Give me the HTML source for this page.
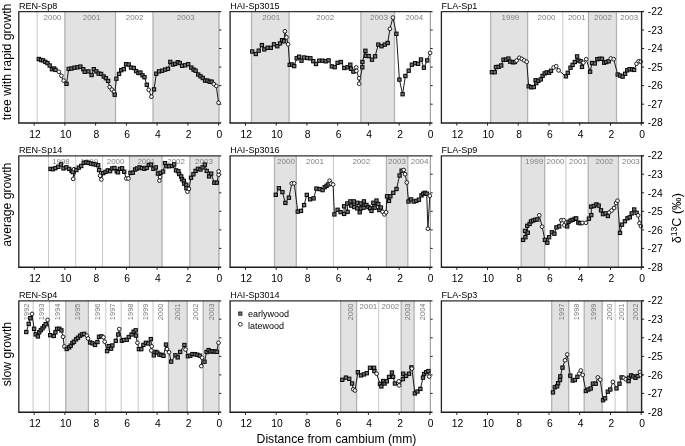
<!DOCTYPE html>
<html lang="en"><head><meta charset="utf-8"><title>δ13C vs distance from cambium</title>
<style>html,body{margin:0;padding:0;background:#fff}svg{display:block}</style></head>
<body>
<svg width="685" height="446" viewBox="0 0 685 446" font-family="'Liberation Sans', Arial, sans-serif">
<rect width="685" height="446" fill="#fff"/>
<g><rect x="64.9" y="11.4" width="50.6" height="111.3" fill="#e2e2e2"/><rect x="153.0" y="11.4" width="65.6" height="111.3" fill="#e2e2e2"/><line x1="37.2" x2="37.2" y1="11.4" y2="122.7" stroke="#c8c8c8" stroke-width="1"/><line x1="64.9" x2="64.9" y1="11.4" y2="122.7" stroke="#b2b2b2" stroke-width="1.3"/><line x1="115.5" x2="115.5" y1="11.4" y2="122.7" stroke="#b2b2b2" stroke-width="1.3"/><line x1="153.0" x2="153.0" y1="11.4" y2="122.7" stroke="#b2b2b2" stroke-width="1.3"/><line x1="219.0" x2="219.0" y1="11.4" y2="122.7" stroke="#8c8c8c" stroke-width="1"/><line x1="219.1" x2="221.4" y1="30.0" y2="30.0" stroke="#222" stroke-width="1"/><line x1="219.1" x2="221.4" y1="48.5" y2="48.5" stroke="#222" stroke-width="1"/><line x1="219.1" x2="221.4" y1="67.1" y2="67.1" stroke="#222" stroke-width="1"/><line x1="219.1" x2="221.4" y1="85.6" y2="85.6" stroke="#222" stroke-width="1"/><line x1="219.1" x2="221.4" y1="104.2" y2="104.2" stroke="#222" stroke-width="1"/><text x="52.4" y="19.7" text-anchor="middle" font-size="8" fill="#828282">2000</text><text x="91.6" y="19.7" text-anchor="middle" font-size="8" fill="#828282">2001</text><text x="134.6" y="19.7" text-anchor="middle" font-size="8" fill="#828282">2002</text><text x="185.7" y="19.7" text-anchor="middle" font-size="8" fill="#828282">2003</text><path d="M38.8,59.0 L41.0,60.0 L43.1,60.4 L45.3,61.9 L47.5,63.1 L49.7,65.5 L51.9,69.2 L54.1,68.5 L55.5,69.9 L58.9,71.8 L61.4,75.8 L63.6,80.6 L66.5,83.8 L68.7,68.9 L71.6,68.5 L74.5,67.7 L77.4,67.3 L80.4,66.6 L83.3,69.2 L84.7,71.8 L88.4,71.4 L91.6,75.0 L93.8,69.2 L96.4,71.4 L98.6,73.6 L101.1,73.9 L103.7,76.5 L105.9,78.2 L108.1,80.9 L109.6,87.0 L111.8,89.6 L113.9,91.8 L114.7,94.7 L116.4,78.7 L119.0,73.9 L121.2,70.2 L123.8,69.1 L126.1,64.2 L128.7,64.5 L131.0,67.6 L133.8,68.0 L136.1,71.1 L138.4,73.0 L140.4,72.6 L142.5,75.3 L144.5,77.2 L146.8,84.8 L148.7,89.8 L151.4,96.7 L154.0,89.4 L156.3,73.7 L159.1,71.4 L162.2,70.7 L165.2,69.6 L168.0,68.8 L170.3,61.9 L172.9,64.5 L175.2,63.8 L177.8,62.2 L179.8,63.0 L182.1,65.8 L185.1,65.3 L188.2,64.2 L191.3,67.6 L193.6,69.6 L195.6,70.7 L198.2,74.5 L200.5,76.3 L202.8,78.0 L205.1,80.6 L207.4,80.6 L209.7,81.7 L211.7,81.7 L213.8,84.1 L216.3,86.0 L218.6,102.8" fill="none" stroke="#1a1a1a" stroke-width="1"/><rect x="37.15" y="57.35" width="3.3" height="3.3" fill="#757575" stroke="#0a0a0a" stroke-width="1.05"/><rect x="39.35" y="58.35" width="3.3" height="3.3" fill="#757575" stroke="#0a0a0a" stroke-width="1.05"/><rect x="41.45" y="58.75" width="3.3" height="3.3" fill="#757575" stroke="#0a0a0a" stroke-width="1.05"/><rect x="43.65" y="60.25" width="3.3" height="3.3" fill="#757575" stroke="#0a0a0a" stroke-width="1.05"/><rect x="45.85" y="61.45" width="3.3" height="3.3" fill="#757575" stroke="#0a0a0a" stroke-width="1.05"/><rect x="48.05" y="63.85" width="3.3" height="3.3" fill="#757575" stroke="#0a0a0a" stroke-width="1.05"/><rect x="50.25" y="67.55" width="3.3" height="3.3" fill="#757575" stroke="#0a0a0a" stroke-width="1.05"/><rect x="52.45" y="66.85" width="3.3" height="3.3" fill="#757575" stroke="#0a0a0a" stroke-width="1.05"/><rect x="53.85" y="68.25" width="3.3" height="3.3" fill="#757575" stroke="#0a0a0a" stroke-width="1.05"/><circle cx="58.9" cy="71.8" r="1.85" fill="#fff" stroke="#0a0a0a" stroke-width="0.9"/><circle cx="61.4" cy="75.8" r="1.85" fill="#fff" stroke="#0a0a0a" stroke-width="0.9"/><circle cx="63.6" cy="80.6" r="1.85" fill="#fff" stroke="#0a0a0a" stroke-width="0.9"/><rect x="64.85" y="82.15" width="3.3" height="3.3" fill="#757575" stroke="#0a0a0a" stroke-width="1.05"/><rect x="67.05" y="67.25" width="3.3" height="3.3" fill="#757575" stroke="#0a0a0a" stroke-width="1.05"/><rect x="69.95" y="66.85" width="3.3" height="3.3" fill="#757575" stroke="#0a0a0a" stroke-width="1.05"/><rect x="72.85" y="66.05" width="3.3" height="3.3" fill="#757575" stroke="#0a0a0a" stroke-width="1.05"/><rect x="75.75" y="65.65" width="3.3" height="3.3" fill="#757575" stroke="#0a0a0a" stroke-width="1.05"/><rect x="78.75" y="64.95" width="3.3" height="3.3" fill="#757575" stroke="#0a0a0a" stroke-width="1.05"/><rect x="81.65" y="67.55" width="3.3" height="3.3" fill="#757575" stroke="#0a0a0a" stroke-width="1.05"/><rect x="83.05" y="70.15" width="3.3" height="3.3" fill="#757575" stroke="#0a0a0a" stroke-width="1.05"/><rect x="86.75" y="69.75" width="3.3" height="3.3" fill="#757575" stroke="#0a0a0a" stroke-width="1.05"/><rect x="89.95" y="73.35" width="3.3" height="3.3" fill="#757575" stroke="#0a0a0a" stroke-width="1.05"/><rect x="92.15" y="67.55" width="3.3" height="3.3" fill="#757575" stroke="#0a0a0a" stroke-width="1.05"/><rect x="94.75" y="69.75" width="3.3" height="3.3" fill="#757575" stroke="#0a0a0a" stroke-width="1.05"/><rect x="96.95" y="71.95" width="3.3" height="3.3" fill="#757575" stroke="#0a0a0a" stroke-width="1.05"/><rect x="99.45" y="72.25" width="3.3" height="3.3" fill="#757575" stroke="#0a0a0a" stroke-width="1.05"/><rect x="102.05" y="74.85" width="3.3" height="3.3" fill="#757575" stroke="#0a0a0a" stroke-width="1.05"/><rect x="104.25" y="76.55" width="3.3" height="3.3" fill="#757575" stroke="#0a0a0a" stroke-width="1.05"/><rect x="106.45" y="79.25" width="3.3" height="3.3" fill="#757575" stroke="#0a0a0a" stroke-width="1.05"/><circle cx="109.6" cy="87.0" r="1.85" fill="#fff" stroke="#0a0a0a" stroke-width="0.9"/><circle cx="111.8" cy="89.6" r="1.85" fill="#fff" stroke="#0a0a0a" stroke-width="0.9"/><circle cx="113.9" cy="91.8" r="1.85" fill="#fff" stroke="#0a0a0a" stroke-width="0.9"/><rect x="113.05" y="93.05" width="3.3" height="3.3" fill="#757575" stroke="#0a0a0a" stroke-width="1.05"/><rect x="114.75" y="77.05" width="3.3" height="3.3" fill="#757575" stroke="#0a0a0a" stroke-width="1.05"/><rect x="117.35" y="72.25" width="3.3" height="3.3" fill="#757575" stroke="#0a0a0a" stroke-width="1.05"/><rect x="119.55" y="68.55" width="3.3" height="3.3" fill="#757575" stroke="#0a0a0a" stroke-width="1.05"/><rect x="122.15" y="67.45" width="3.3" height="3.3" fill="#757575" stroke="#0a0a0a" stroke-width="1.05"/><rect x="124.45" y="62.55" width="3.3" height="3.3" fill="#757575" stroke="#0a0a0a" stroke-width="1.05"/><rect x="127.05" y="62.85" width="3.3" height="3.3" fill="#757575" stroke="#0a0a0a" stroke-width="1.05"/><rect x="129.35" y="65.95" width="3.3" height="3.3" fill="#757575" stroke="#0a0a0a" stroke-width="1.05"/><rect x="132.15" y="66.35" width="3.3" height="3.3" fill="#757575" stroke="#0a0a0a" stroke-width="1.05"/><rect x="134.45" y="69.45" width="3.3" height="3.3" fill="#757575" stroke="#0a0a0a" stroke-width="1.05"/><rect x="136.75" y="71.35" width="3.3" height="3.3" fill="#757575" stroke="#0a0a0a" stroke-width="1.05"/><rect x="138.75" y="70.95" width="3.3" height="3.3" fill="#757575" stroke="#0a0a0a" stroke-width="1.05"/><rect x="140.85" y="73.65" width="3.3" height="3.3" fill="#757575" stroke="#0a0a0a" stroke-width="1.05"/><rect x="142.85" y="75.55" width="3.3" height="3.3" fill="#757575" stroke="#0a0a0a" stroke-width="1.05"/><rect x="145.15" y="83.15" width="3.3" height="3.3" fill="#757575" stroke="#0a0a0a" stroke-width="1.05"/><circle cx="148.7" cy="89.8" r="1.85" fill="#fff" stroke="#0a0a0a" stroke-width="0.9"/><circle cx="151.4" cy="96.7" r="1.85" fill="#fff" stroke="#0a0a0a" stroke-width="0.9"/><rect x="152.35" y="87.75" width="3.3" height="3.3" fill="#757575" stroke="#0a0a0a" stroke-width="1.05"/><rect x="154.65" y="72.05" width="3.3" height="3.3" fill="#757575" stroke="#0a0a0a" stroke-width="1.05"/><rect x="157.45" y="69.75" width="3.3" height="3.3" fill="#757575" stroke="#0a0a0a" stroke-width="1.05"/><rect x="160.55" y="69.05" width="3.3" height="3.3" fill="#757575" stroke="#0a0a0a" stroke-width="1.05"/><rect x="163.55" y="67.95" width="3.3" height="3.3" fill="#757575" stroke="#0a0a0a" stroke-width="1.05"/><rect x="166.35" y="67.15" width="3.3" height="3.3" fill="#757575" stroke="#0a0a0a" stroke-width="1.05"/><rect x="168.65" y="60.25" width="3.3" height="3.3" fill="#757575" stroke="#0a0a0a" stroke-width="1.05"/><rect x="171.25" y="62.85" width="3.3" height="3.3" fill="#757575" stroke="#0a0a0a" stroke-width="1.05"/><rect x="173.55" y="62.15" width="3.3" height="3.3" fill="#757575" stroke="#0a0a0a" stroke-width="1.05"/><rect x="176.15" y="60.55" width="3.3" height="3.3" fill="#757575" stroke="#0a0a0a" stroke-width="1.05"/><rect x="178.15" y="61.35" width="3.3" height="3.3" fill="#757575" stroke="#0a0a0a" stroke-width="1.05"/><rect x="180.45" y="64.15" width="3.3" height="3.3" fill="#757575" stroke="#0a0a0a" stroke-width="1.05"/><rect x="183.45" y="63.65" width="3.3" height="3.3" fill="#757575" stroke="#0a0a0a" stroke-width="1.05"/><rect x="186.55" y="62.55" width="3.3" height="3.3" fill="#757575" stroke="#0a0a0a" stroke-width="1.05"/><rect x="189.65" y="65.95" width="3.3" height="3.3" fill="#757575" stroke="#0a0a0a" stroke-width="1.05"/><rect x="191.95" y="67.95" width="3.3" height="3.3" fill="#757575" stroke="#0a0a0a" stroke-width="1.05"/><rect x="193.95" y="69.05" width="3.3" height="3.3" fill="#757575" stroke="#0a0a0a" stroke-width="1.05"/><rect x="196.55" y="72.85" width="3.3" height="3.3" fill="#757575" stroke="#0a0a0a" stroke-width="1.05"/><rect x="198.85" y="74.65" width="3.3" height="3.3" fill="#757575" stroke="#0a0a0a" stroke-width="1.05"/><rect x="201.15" y="76.35" width="3.3" height="3.3" fill="#757575" stroke="#0a0a0a" stroke-width="1.05"/><rect x="203.45" y="78.95" width="3.3" height="3.3" fill="#757575" stroke="#0a0a0a" stroke-width="1.05"/><rect x="205.75" y="78.95" width="3.3" height="3.3" fill="#757575" stroke="#0a0a0a" stroke-width="1.05"/><rect x="208.05" y="80.05" width="3.3" height="3.3" fill="#757575" stroke="#0a0a0a" stroke-width="1.05"/><rect x="210.05" y="80.05" width="3.3" height="3.3" fill="#757575" stroke="#0a0a0a" stroke-width="1.05"/><circle cx="213.8" cy="84.1" r="1.85" fill="#fff" stroke="#0a0a0a" stroke-width="0.9"/><circle cx="216.3" cy="86.0" r="1.85" fill="#fff" stroke="#0a0a0a" stroke-width="0.9"/><circle cx="218.6" cy="102.8" r="1.85" fill="#fff" stroke="#0a0a0a" stroke-width="0.9"/><line x1="18.8" x2="18.8" y1="11.4" y2="123.3" stroke="#222" stroke-width="1.3"/><line x1="18.3" x2="221.2" y1="11.55" y2="11.55" stroke="#303030" stroke-width="1.3"/><line x1="18.3" x2="221.2" y1="123.0" y2="123.0" stroke="#1c1c1c" stroke-width="1.4"/><line x1="218.6" x2="218.6" y1="122.7" y2="125.6" stroke="#222" stroke-width="1"/><text x="219.4" y="137.7" text-anchor="middle" font-size="10.3" fill="#000">0</text><line x1="187.9" x2="187.9" y1="122.7" y2="125.6" stroke="#222" stroke-width="1"/><text x="188.7" y="137.7" text-anchor="middle" font-size="10.3" fill="#000">2</text><line x1="157.1" x2="157.1" y1="122.7" y2="125.6" stroke="#222" stroke-width="1"/><text x="157.9" y="137.7" text-anchor="middle" font-size="10.3" fill="#000">4</text><line x1="126.4" x2="126.4" y1="122.7" y2="125.6" stroke="#222" stroke-width="1"/><text x="127.2" y="137.7" text-anchor="middle" font-size="10.3" fill="#000">6</text><line x1="95.6" x2="95.6" y1="122.7" y2="125.6" stroke="#222" stroke-width="1"/><text x="96.4" y="137.7" text-anchor="middle" font-size="10.3" fill="#000">8</text><line x1="64.9" x2="64.9" y1="122.7" y2="125.6" stroke="#222" stroke-width="1"/><text x="65.7" y="137.7" text-anchor="middle" font-size="10.3" fill="#000">10</text><line x1="34.2" x2="34.2" y1="122.7" y2="125.6" stroke="#222" stroke-width="1"/><text x="35.0" y="137.7" text-anchor="middle" font-size="10.3" fill="#000">12</text><text x="19.0" y="8.9" font-size="9.05" fill="#000">REN-Sp8</text></g>
<g><rect x="251.5" y="11.4" width="37.7" height="111.3" fill="#e2e2e2"/><rect x="360.9" y="11.4" width="33.7" height="111.3" fill="#e2e2e2"/><line x1="251.5" x2="251.5" y1="11.4" y2="122.7" stroke="#b2b2b2" stroke-width="1.3"/><line x1="289.1" x2="289.1" y1="11.4" y2="122.7" stroke="#b2b2b2" stroke-width="1.3"/><line x1="360.9" x2="360.9" y1="11.4" y2="122.7" stroke="#b2b2b2" stroke-width="1.3"/><line x1="394.5" x2="394.5" y1="11.4" y2="122.7" stroke="#b2b2b2" stroke-width="1.3"/><line x1="430.3" x2="430.3" y1="11.4" y2="122.7" stroke="#8c8c8c" stroke-width="1"/><line x1="430.4" x2="432.7" y1="30.0" y2="30.0" stroke="#222" stroke-width="1"/><line x1="430.4" x2="432.7" y1="48.5" y2="48.5" stroke="#222" stroke-width="1"/><line x1="430.4" x2="432.7" y1="67.1" y2="67.1" stroke="#222" stroke-width="1"/><line x1="430.4" x2="432.7" y1="85.6" y2="85.6" stroke="#222" stroke-width="1"/><line x1="430.4" x2="432.7" y1="104.2" y2="104.2" stroke="#222" stroke-width="1"/><text x="271.2" y="19.7" text-anchor="middle" font-size="8" fill="#828282">2001</text><text x="325.2" y="19.7" text-anchor="middle" font-size="8" fill="#828282">2002</text><text x="379.0" y="19.7" text-anchor="middle" font-size="8" fill="#828282">2003</text><text x="414.3" y="19.7" text-anchor="middle" font-size="8" fill="#828282">2004</text><path d="M252.2,51.5 L255.8,54.0 L258.7,50.7 L261.9,45.1 L264.3,49.4 L267.6,47.8 L270.8,47.8 L274.0,44.3 L277.3,46.2 L280.0,43.4 L282.1,40.2 L284.1,41.3 L284.9,31.3 L286.5,37.3 L288.1,44.3 L289.7,64.8 L292.1,64.5 L294.2,66.1 L296.7,58.3 L299.1,56.7 L301.5,60.7 L303.9,57.5 L307.2,58.0 L310.4,58.3 L313.3,61.2 L316.0,64.0 L319.3,60.7 L322.5,60.7 L325.7,61.3 L328.6,60.4 L331.8,66.4 L334.7,67.2 L337.6,62.8 L340.9,62.0 L344.3,68.0 L347.4,67.3 L350.3,64.7 L351.0,68.8 L353.4,71.6 L356.2,67.4 L356.4,70.9 L359.1,78.2 L359.2,83.7 L362.3,67.3 L362.4,62.0 L365.4,50.8 L365.7,55.8 L368.7,56.1 L372.0,59.7 L375.1,56.3 L378.3,44.6 L381.5,46.2 L384.8,44.6 L387.7,43.0 L389.9,28.9 L392.9,17.6 L396.4,33.8 L399.4,79.6 L402.6,94.2 L405.4,76.0 L408.7,70.7 L411.9,64.7 L415.1,63.2 L418.1,63.8 L421.0,59.5 L423.9,67.7 L427.2,60.4 L430.1,52.9" fill="none" stroke="#1a1a1a" stroke-width="1"/><rect x="250.55" y="49.85" width="3.3" height="3.3" fill="#757575" stroke="#0a0a0a" stroke-width="1.05"/><rect x="254.15" y="52.35" width="3.3" height="3.3" fill="#757575" stroke="#0a0a0a" stroke-width="1.05"/><rect x="257.05" y="49.05" width="3.3" height="3.3" fill="#757575" stroke="#0a0a0a" stroke-width="1.05"/><rect x="260.25" y="43.45" width="3.3" height="3.3" fill="#757575" stroke="#0a0a0a" stroke-width="1.05"/><rect x="262.65" y="47.75" width="3.3" height="3.3" fill="#757575" stroke="#0a0a0a" stroke-width="1.05"/><rect x="265.95" y="46.15" width="3.3" height="3.3" fill="#757575" stroke="#0a0a0a" stroke-width="1.05"/><rect x="269.15" y="46.15" width="3.3" height="3.3" fill="#757575" stroke="#0a0a0a" stroke-width="1.05"/><rect x="272.35" y="42.65" width="3.3" height="3.3" fill="#757575" stroke="#0a0a0a" stroke-width="1.05"/><rect x="275.65" y="44.55" width="3.3" height="3.3" fill="#757575" stroke="#0a0a0a" stroke-width="1.05"/><rect x="278.35" y="41.75" width="3.3" height="3.3" fill="#757575" stroke="#0a0a0a" stroke-width="1.05"/><rect x="280.45" y="38.55" width="3.3" height="3.3" fill="#757575" stroke="#0a0a0a" stroke-width="1.05"/><rect x="282.45" y="39.65" width="3.3" height="3.3" fill="#757575" stroke="#0a0a0a" stroke-width="1.05"/><circle cx="284.9" cy="31.3" r="1.85" fill="#fff" stroke="#0a0a0a" stroke-width="0.9"/><circle cx="286.5" cy="37.3" r="1.85" fill="#fff" stroke="#0a0a0a" stroke-width="0.9"/><circle cx="288.1" cy="44.3" r="1.85" fill="#fff" stroke="#0a0a0a" stroke-width="0.9"/><rect x="288.05" y="63.15" width="3.3" height="3.3" fill="#757575" stroke="#0a0a0a" stroke-width="1.05"/><rect x="290.45" y="62.85" width="3.3" height="3.3" fill="#757575" stroke="#0a0a0a" stroke-width="1.05"/><rect x="292.55" y="64.45" width="3.3" height="3.3" fill="#757575" stroke="#0a0a0a" stroke-width="1.05"/><rect x="295.05" y="56.65" width="3.3" height="3.3" fill="#757575" stroke="#0a0a0a" stroke-width="1.05"/><rect x="297.45" y="55.05" width="3.3" height="3.3" fill="#757575" stroke="#0a0a0a" stroke-width="1.05"/><rect x="299.85" y="59.05" width="3.3" height="3.3" fill="#757575" stroke="#0a0a0a" stroke-width="1.05"/><rect x="302.25" y="55.85" width="3.3" height="3.3" fill="#757575" stroke="#0a0a0a" stroke-width="1.05"/><rect x="305.55" y="56.35" width="3.3" height="3.3" fill="#757575" stroke="#0a0a0a" stroke-width="1.05"/><rect x="308.75" y="56.65" width="3.3" height="3.3" fill="#757575" stroke="#0a0a0a" stroke-width="1.05"/><rect x="311.65" y="59.55" width="3.3" height="3.3" fill="#757575" stroke="#0a0a0a" stroke-width="1.05"/><rect x="314.35" y="62.35" width="3.3" height="3.3" fill="#757575" stroke="#0a0a0a" stroke-width="1.05"/><rect x="317.65" y="59.05" width="3.3" height="3.3" fill="#757575" stroke="#0a0a0a" stroke-width="1.05"/><rect x="320.85" y="59.05" width="3.3" height="3.3" fill="#757575" stroke="#0a0a0a" stroke-width="1.05"/><rect x="324.05" y="59.65" width="3.3" height="3.3" fill="#757575" stroke="#0a0a0a" stroke-width="1.05"/><rect x="326.95" y="58.75" width="3.3" height="3.3" fill="#757575" stroke="#0a0a0a" stroke-width="1.05"/><rect x="330.15" y="64.75" width="3.3" height="3.3" fill="#757575" stroke="#0a0a0a" stroke-width="1.05"/><rect x="333.05" y="65.55" width="3.3" height="3.3" fill="#757575" stroke="#0a0a0a" stroke-width="1.05"/><rect x="335.95" y="61.15" width="3.3" height="3.3" fill="#757575" stroke="#0a0a0a" stroke-width="1.05"/><rect x="339.25" y="60.35" width="3.3" height="3.3" fill="#757575" stroke="#0a0a0a" stroke-width="1.05"/><rect x="342.65" y="66.35" width="3.3" height="3.3" fill="#757575" stroke="#0a0a0a" stroke-width="1.05"/><rect x="345.75" y="65.65" width="3.3" height="3.3" fill="#757575" stroke="#0a0a0a" stroke-width="1.05"/><rect x="348.65" y="63.05" width="3.3" height="3.3" fill="#757575" stroke="#0a0a0a" stroke-width="1.05"/><rect x="349.35" y="67.15" width="3.3" height="3.3" fill="#757575" stroke="#0a0a0a" stroke-width="1.05"/><rect x="351.75" y="69.95" width="3.3" height="3.3" fill="#757575" stroke="#0a0a0a" stroke-width="1.05"/><circle cx="356.2" cy="67.4" r="1.85" fill="#fff" stroke="#0a0a0a" stroke-width="0.9"/><circle cx="356.4" cy="70.9" r="1.85" fill="#fff" stroke="#0a0a0a" stroke-width="0.9"/><circle cx="359.1" cy="78.2" r="1.85" fill="#fff" stroke="#0a0a0a" stroke-width="0.9"/><circle cx="359.2" cy="83.7" r="1.85" fill="#fff" stroke="#0a0a0a" stroke-width="0.9"/><rect x="360.65" y="65.65" width="3.3" height="3.3" fill="#757575" stroke="#0a0a0a" stroke-width="1.05"/><rect x="360.75" y="60.35" width="3.3" height="3.3" fill="#757575" stroke="#0a0a0a" stroke-width="1.05"/><rect x="363.75" y="49.15" width="3.3" height="3.3" fill="#757575" stroke="#0a0a0a" stroke-width="1.05"/><rect x="364.05" y="54.15" width="3.3" height="3.3" fill="#757575" stroke="#0a0a0a" stroke-width="1.05"/><rect x="367.05" y="54.45" width="3.3" height="3.3" fill="#757575" stroke="#0a0a0a" stroke-width="1.05"/><rect x="370.35" y="58.05" width="3.3" height="3.3" fill="#757575" stroke="#0a0a0a" stroke-width="1.05"/><rect x="373.45" y="54.65" width="3.3" height="3.3" fill="#757575" stroke="#0a0a0a" stroke-width="1.05"/><rect x="376.65" y="42.95" width="3.3" height="3.3" fill="#757575" stroke="#0a0a0a" stroke-width="1.05"/><rect x="379.85" y="44.55" width="3.3" height="3.3" fill="#757575" stroke="#0a0a0a" stroke-width="1.05"/><rect x="383.15" y="42.95" width="3.3" height="3.3" fill="#757575" stroke="#0a0a0a" stroke-width="1.05"/><rect x="386.05" y="41.35" width="3.3" height="3.3" fill="#757575" stroke="#0a0a0a" stroke-width="1.05"/><circle cx="389.9" cy="28.9" r="1.85" fill="#fff" stroke="#0a0a0a" stroke-width="0.9"/><circle cx="392.9" cy="17.6" r="1.85" fill="#fff" stroke="#0a0a0a" stroke-width="0.9"/><rect x="394.75" y="32.15" width="3.3" height="3.3" fill="#757575" stroke="#0a0a0a" stroke-width="1.05"/><rect x="397.75" y="77.95" width="3.3" height="3.3" fill="#757575" stroke="#0a0a0a" stroke-width="1.05"/><rect x="400.95" y="92.55" width="3.3" height="3.3" fill="#757575" stroke="#0a0a0a" stroke-width="1.05"/><rect x="403.75" y="74.35" width="3.3" height="3.3" fill="#757575" stroke="#0a0a0a" stroke-width="1.05"/><rect x="407.05" y="69.05" width="3.3" height="3.3" fill="#757575" stroke="#0a0a0a" stroke-width="1.05"/><rect x="410.25" y="63.05" width="3.3" height="3.3" fill="#757575" stroke="#0a0a0a" stroke-width="1.05"/><rect x="413.45" y="61.55" width="3.3" height="3.3" fill="#757575" stroke="#0a0a0a" stroke-width="1.05"/><rect x="416.45" y="62.15" width="3.3" height="3.3" fill="#757575" stroke="#0a0a0a" stroke-width="1.05"/><rect x="419.35" y="57.85" width="3.3" height="3.3" fill="#757575" stroke="#0a0a0a" stroke-width="1.05"/><rect x="422.25" y="66.05" width="3.3" height="3.3" fill="#757575" stroke="#0a0a0a" stroke-width="1.05"/><rect x="425.55" y="58.75" width="3.3" height="3.3" fill="#757575" stroke="#0a0a0a" stroke-width="1.05"/><circle cx="430.1" cy="52.9" r="1.85" fill="#fff" stroke="#0a0a0a" stroke-width="0.9"/><line x1="230.1" x2="230.1" y1="11.4" y2="123.3" stroke="#222" stroke-width="1.3"/><line x1="229.6" x2="432.5" y1="11.55" y2="11.55" stroke="#303030" stroke-width="1.3"/><line x1="229.6" x2="432.5" y1="123.0" y2="123.0" stroke="#1c1c1c" stroke-width="1.4"/><line x1="429.9" x2="429.9" y1="122.7" y2="125.6" stroke="#222" stroke-width="1"/><text x="430.7" y="137.7" text-anchor="middle" font-size="10.3" fill="#000">0</text><line x1="399.2" x2="399.2" y1="122.7" y2="125.6" stroke="#222" stroke-width="1"/><text x="400.0" y="137.7" text-anchor="middle" font-size="10.3" fill="#000">2</text><line x1="368.4" x2="368.4" y1="122.7" y2="125.6" stroke="#222" stroke-width="1"/><text x="369.2" y="137.7" text-anchor="middle" font-size="10.3" fill="#000">4</text><line x1="337.7" x2="337.7" y1="122.7" y2="125.6" stroke="#222" stroke-width="1"/><text x="338.5" y="137.7" text-anchor="middle" font-size="10.3" fill="#000">6</text><line x1="306.9" x2="306.9" y1="122.7" y2="125.6" stroke="#222" stroke-width="1"/><text x="307.7" y="137.7" text-anchor="middle" font-size="10.3" fill="#000">8</text><line x1="276.2" x2="276.2" y1="122.7" y2="125.6" stroke="#222" stroke-width="1"/><text x="277.0" y="137.7" text-anchor="middle" font-size="10.3" fill="#000">10</text><line x1="245.5" x2="245.5" y1="122.7" y2="125.6" stroke="#222" stroke-width="1"/><text x="246.3" y="137.7" text-anchor="middle" font-size="10.3" fill="#000">12</text><text x="230.3" y="8.9" font-size="9.05" fill="#000">HAI-Sp3015</text></g>
<g><rect x="490.6" y="11.4" width="37.0" height="111.3" fill="#e2e2e2"/><rect x="588.5" y="11.4" width="28.0" height="111.3" fill="#e2e2e2"/><line x1="490.6" x2="490.6" y1="11.4" y2="122.7" stroke="#b2b2b2" stroke-width="1.3"/><line x1="527.6" x2="527.6" y1="11.4" y2="122.7" stroke="#b2b2b2" stroke-width="1.3"/><line x1="562.8" x2="562.8" y1="11.4" y2="122.7" stroke="#c8c8c8" stroke-width="1"/><line x1="588.5" x2="588.5" y1="11.4" y2="122.7" stroke="#b2b2b2" stroke-width="1.3"/><line x1="616.5" x2="616.5" y1="11.4" y2="122.7" stroke="#b2b2b2" stroke-width="1.3"/><text x="510.4" y="19.7" text-anchor="middle" font-size="8" fill="#828282">1999</text><text x="546.5" y="19.7" text-anchor="middle" font-size="8" fill="#828282">2000</text><text x="576.8" y="19.7" text-anchor="middle" font-size="8" fill="#828282">2001</text><text x="603.0" y="19.7" text-anchor="middle" font-size="8" fill="#828282">2002</text><text x="629.2" y="19.7" text-anchor="middle" font-size="8" fill="#828282">2003</text><path d="M491.9,72.2 L494.7,72.2 L496.0,67.1 L498.7,66.8 L501.2,65.5 L503.5,59.7 L506.0,59.7 L508.4,58.6 L510.2,61.6 L512.9,62.3 L514.8,62.0 L516.6,60.6 L519.3,57.8 L521.8,58.9 L524.2,60.4 L526.7,61.8 L528.7,86.3 L531.2,87.3 L533.8,87.0 L535.6,80.3 L536.3,83.1 L538.4,80.8 L540.8,79.4 L542.6,75.9 L544.7,73.4 L546.8,72.4 L549.1,72.7 L551.0,70.8 L553.6,67.5 L556.2,66.2 L558.6,70.4 L565.9,76.3 L567.8,72.8 L570.5,67.7 L572.6,64.9 L574.8,62.0 L577.1,56.4 L578.5,60.6 L580.6,61.3 L582.0,66.9 L583.4,62.7 L586.2,59.2 L590.1,71.7 L592.1,63.0 L594.8,63.4 L597.3,59.2 L599.7,58.8 L601.9,58.8 L604.2,62.7 L606.3,62.0 L608.7,61.3 L610.8,58.5 L613.7,59.2 L617.7,74.5 L620.2,75.6 L622.6,76.6 L625.1,73.8 L627.2,70.3 L629.6,69.2 L632.1,69.4 L634.1,69.9 L636.5,63.8 L638.6,61.3 L640.7,61.7" fill="none" stroke="#1a1a1a" stroke-width="1"/><rect x="490.25" y="70.55" width="3.3" height="3.3" fill="#757575" stroke="#0a0a0a" stroke-width="1.05"/><rect x="493.05" y="70.55" width="3.3" height="3.3" fill="#757575" stroke="#0a0a0a" stroke-width="1.05"/><rect x="494.35" y="65.45" width="3.3" height="3.3" fill="#757575" stroke="#0a0a0a" stroke-width="1.05"/><rect x="497.05" y="65.15" width="3.3" height="3.3" fill="#757575" stroke="#0a0a0a" stroke-width="1.05"/><rect x="499.55" y="63.85" width="3.3" height="3.3" fill="#757575" stroke="#0a0a0a" stroke-width="1.05"/><rect x="501.85" y="58.05" width="3.3" height="3.3" fill="#757575" stroke="#0a0a0a" stroke-width="1.05"/><rect x="504.35" y="58.05" width="3.3" height="3.3" fill="#757575" stroke="#0a0a0a" stroke-width="1.05"/><rect x="506.75" y="56.95" width="3.3" height="3.3" fill="#757575" stroke="#0a0a0a" stroke-width="1.05"/><rect x="508.55" y="59.95" width="3.3" height="3.3" fill="#757575" stroke="#0a0a0a" stroke-width="1.05"/><rect x="511.25" y="60.65" width="3.3" height="3.3" fill="#757575" stroke="#0a0a0a" stroke-width="1.05"/><rect x="513.15" y="60.35" width="3.3" height="3.3" fill="#757575" stroke="#0a0a0a" stroke-width="1.05"/><circle cx="516.6" cy="60.6" r="1.85" fill="#fff" stroke="#0a0a0a" stroke-width="0.9"/><circle cx="519.3" cy="57.8" r="1.85" fill="#fff" stroke="#0a0a0a" stroke-width="0.9"/><circle cx="521.8" cy="58.9" r="1.85" fill="#fff" stroke="#0a0a0a" stroke-width="0.9"/><circle cx="524.2" cy="60.4" r="1.85" fill="#fff" stroke="#0a0a0a" stroke-width="0.9"/><circle cx="526.7" cy="61.8" r="1.85" fill="#fff" stroke="#0a0a0a" stroke-width="0.9"/><rect x="527.05" y="84.65" width="3.3" height="3.3" fill="#757575" stroke="#0a0a0a" stroke-width="1.05"/><rect x="529.55" y="85.65" width="3.3" height="3.3" fill="#757575" stroke="#0a0a0a" stroke-width="1.05"/><rect x="532.15" y="85.35" width="3.3" height="3.3" fill="#757575" stroke="#0a0a0a" stroke-width="1.05"/><rect x="533.95" y="78.65" width="3.3" height="3.3" fill="#757575" stroke="#0a0a0a" stroke-width="1.05"/><rect x="534.65" y="81.45" width="3.3" height="3.3" fill="#757575" stroke="#0a0a0a" stroke-width="1.05"/><rect x="536.75" y="79.15" width="3.3" height="3.3" fill="#757575" stroke="#0a0a0a" stroke-width="1.05"/><rect x="539.15" y="77.75" width="3.3" height="3.3" fill="#757575" stroke="#0a0a0a" stroke-width="1.05"/><rect x="540.95" y="74.25" width="3.3" height="3.3" fill="#757575" stroke="#0a0a0a" stroke-width="1.05"/><rect x="543.05" y="71.75" width="3.3" height="3.3" fill="#757575" stroke="#0a0a0a" stroke-width="1.05"/><rect x="545.15" y="70.75" width="3.3" height="3.3" fill="#757575" stroke="#0a0a0a" stroke-width="1.05"/><rect x="547.45" y="71.05" width="3.3" height="3.3" fill="#757575" stroke="#0a0a0a" stroke-width="1.05"/><rect x="549.35" y="69.15" width="3.3" height="3.3" fill="#757575" stroke="#0a0a0a" stroke-width="1.05"/><circle cx="553.6" cy="67.5" r="1.85" fill="#fff" stroke="#0a0a0a" stroke-width="0.9"/><circle cx="556.2" cy="66.2" r="1.85" fill="#fff" stroke="#0a0a0a" stroke-width="0.9"/><circle cx="558.6" cy="70.4" r="1.85" fill="#fff" stroke="#0a0a0a" stroke-width="0.9"/><rect x="564.25" y="74.65" width="3.3" height="3.3" fill="#757575" stroke="#0a0a0a" stroke-width="1.05"/><rect x="566.15" y="71.15" width="3.3" height="3.3" fill="#757575" stroke="#0a0a0a" stroke-width="1.05"/><rect x="568.85" y="66.05" width="3.3" height="3.3" fill="#757575" stroke="#0a0a0a" stroke-width="1.05"/><rect x="570.95" y="63.25" width="3.3" height="3.3" fill="#757575" stroke="#0a0a0a" stroke-width="1.05"/><rect x="573.15" y="60.35" width="3.3" height="3.3" fill="#757575" stroke="#0a0a0a" stroke-width="1.05"/><rect x="575.45" y="54.75" width="3.3" height="3.3" fill="#757575" stroke="#0a0a0a" stroke-width="1.05"/><rect x="576.85" y="58.95" width="3.3" height="3.3" fill="#757575" stroke="#0a0a0a" stroke-width="1.05"/><rect x="578.95" y="59.65" width="3.3" height="3.3" fill="#757575" stroke="#0a0a0a" stroke-width="1.05"/><rect x="580.35" y="65.25" width="3.3" height="3.3" fill="#757575" stroke="#0a0a0a" stroke-width="1.05"/><circle cx="583.4" cy="62.7" r="1.85" fill="#fff" stroke="#0a0a0a" stroke-width="0.9"/><circle cx="586.2" cy="59.2" r="1.85" fill="#fff" stroke="#0a0a0a" stroke-width="0.9"/><rect x="588.45" y="70.05" width="3.3" height="3.3" fill="#757575" stroke="#0a0a0a" stroke-width="1.05"/><rect x="590.45" y="61.35" width="3.3" height="3.3" fill="#757575" stroke="#0a0a0a" stroke-width="1.05"/><rect x="593.15" y="61.75" width="3.3" height="3.3" fill="#757575" stroke="#0a0a0a" stroke-width="1.05"/><rect x="595.65" y="57.55" width="3.3" height="3.3" fill="#757575" stroke="#0a0a0a" stroke-width="1.05"/><rect x="598.05" y="57.15" width="3.3" height="3.3" fill="#757575" stroke="#0a0a0a" stroke-width="1.05"/><rect x="600.25" y="57.15" width="3.3" height="3.3" fill="#757575" stroke="#0a0a0a" stroke-width="1.05"/><rect x="602.55" y="61.05" width="3.3" height="3.3" fill="#757575" stroke="#0a0a0a" stroke-width="1.05"/><rect x="604.65" y="60.35" width="3.3" height="3.3" fill="#757575" stroke="#0a0a0a" stroke-width="1.05"/><rect x="607.05" y="59.65" width="3.3" height="3.3" fill="#757575" stroke="#0a0a0a" stroke-width="1.05"/><circle cx="610.8" cy="58.5" r="1.85" fill="#fff" stroke="#0a0a0a" stroke-width="0.9"/><circle cx="613.7" cy="59.2" r="1.85" fill="#fff" stroke="#0a0a0a" stroke-width="0.9"/><rect x="616.05" y="72.85" width="3.3" height="3.3" fill="#757575" stroke="#0a0a0a" stroke-width="1.05"/><rect x="618.55" y="73.95" width="3.3" height="3.3" fill="#757575" stroke="#0a0a0a" stroke-width="1.05"/><rect x="620.95" y="74.95" width="3.3" height="3.3" fill="#757575" stroke="#0a0a0a" stroke-width="1.05"/><rect x="623.45" y="72.15" width="3.3" height="3.3" fill="#757575" stroke="#0a0a0a" stroke-width="1.05"/><rect x="625.55" y="68.65" width="3.3" height="3.3" fill="#757575" stroke="#0a0a0a" stroke-width="1.05"/><rect x="627.95" y="67.55" width="3.3" height="3.3" fill="#757575" stroke="#0a0a0a" stroke-width="1.05"/><rect x="630.45" y="67.75" width="3.3" height="3.3" fill="#757575" stroke="#0a0a0a" stroke-width="1.05"/><rect x="632.45" y="68.25" width="3.3" height="3.3" fill="#757575" stroke="#0a0a0a" stroke-width="1.05"/><circle cx="636.5" cy="63.8" r="1.85" fill="#fff" stroke="#0a0a0a" stroke-width="0.9"/><circle cx="638.6" cy="61.3" r="1.85" fill="#fff" stroke="#0a0a0a" stroke-width="0.9"/><circle cx="640.7" cy="61.7" r="1.85" fill="#fff" stroke="#0a0a0a" stroke-width="0.9"/><line x1="441.4" x2="441.4" y1="11.4" y2="123.3" stroke="#222" stroke-width="1.3"/><line x1="440.9" x2="643.8" y1="11.55" y2="11.55" stroke="#303030" stroke-width="1.3"/><line x1="440.9" x2="643.8" y1="123.0" y2="123.0" stroke="#1c1c1c" stroke-width="1.4"/><line x1="641.6" x2="641.6" y1="11.4" y2="123.3" stroke="#222" stroke-width="1.4"/><line x1="641.2" x2="644.1" y1="11.4" y2="11.4" stroke="#222" stroke-width="1"/><text x="647.8" y="15.1" font-size="10.3" fill="#000">-22</text><line x1="641.2" x2="644.1" y1="30.0" y2="30.0" stroke="#222" stroke-width="1"/><text x="647.8" y="33.7" font-size="10.3" fill="#000">-23</text><line x1="641.2" x2="644.1" y1="48.5" y2="48.5" stroke="#222" stroke-width="1"/><text x="647.8" y="52.2" font-size="10.3" fill="#000">-24</text><line x1="641.2" x2="644.1" y1="67.1" y2="67.1" stroke="#222" stroke-width="1"/><text x="647.8" y="70.8" font-size="10.3" fill="#000">-25</text><line x1="641.2" x2="644.1" y1="85.6" y2="85.6" stroke="#222" stroke-width="1"/><text x="647.8" y="89.3" font-size="10.3" fill="#000">-26</text><line x1="641.2" x2="644.1" y1="104.2" y2="104.2" stroke="#222" stroke-width="1"/><text x="647.8" y="107.9" font-size="10.3" fill="#000">-27</text><line x1="641.2" x2="644.1" y1="122.7" y2="122.7" stroke="#222" stroke-width="1"/><text x="647.8" y="126.4" font-size="10.3" fill="#000">-28</text><line x1="641.2" x2="641.2" y1="122.7" y2="125.6" stroke="#222" stroke-width="1"/><text x="642.0" y="137.7" text-anchor="middle" font-size="10.3" fill="#000">0</text><line x1="610.5" x2="610.5" y1="122.7" y2="125.6" stroke="#222" stroke-width="1"/><text x="611.3" y="137.7" text-anchor="middle" font-size="10.3" fill="#000">2</text><line x1="579.7" x2="579.7" y1="122.7" y2="125.6" stroke="#222" stroke-width="1"/><text x="580.5" y="137.7" text-anchor="middle" font-size="10.3" fill="#000">4</text><line x1="549.0" x2="549.0" y1="122.7" y2="125.6" stroke="#222" stroke-width="1"/><text x="549.8" y="137.7" text-anchor="middle" font-size="10.3" fill="#000">6</text><line x1="518.2" x2="518.2" y1="122.7" y2="125.6" stroke="#222" stroke-width="1"/><text x="519.0" y="137.7" text-anchor="middle" font-size="10.3" fill="#000">8</text><line x1="487.5" x2="487.5" y1="122.7" y2="125.6" stroke="#222" stroke-width="1"/><text x="488.3" y="137.7" text-anchor="middle" font-size="10.3" fill="#000">10</text><line x1="456.8" x2="456.8" y1="122.7" y2="125.6" stroke="#222" stroke-width="1"/><text x="457.6" y="137.7" text-anchor="middle" font-size="10.3" fill="#000">12</text><text x="441.6" y="8.9" font-size="9.05" fill="#000">FLA-Sp1</text></g>
<g><rect x="129.5" y="155.7" width="32.6" height="111.3" fill="#e2e2e2"/><rect x="189.9" y="155.7" width="28.7" height="111.3" fill="#e2e2e2"/><line x1="48.5" x2="48.5" y1="155.7" y2="267.0" stroke="#c8c8c8" stroke-width="1"/><line x1="75.7" x2="75.7" y1="155.7" y2="267.0" stroke="#c8c8c8" stroke-width="1"/><line x1="102.6" x2="102.6" y1="155.7" y2="267.0" stroke="#c8c8c8" stroke-width="1"/><line x1="129.5" x2="129.5" y1="155.7" y2="267.0" stroke="#b2b2b2" stroke-width="1.3"/><line x1="162.0" x2="162.0" y1="155.7" y2="267.0" stroke="#b2b2b2" stroke-width="1.3"/><line x1="189.9" x2="189.9" y1="155.7" y2="267.0" stroke="#b2b2b2" stroke-width="1.3"/><line x1="219.0" x2="219.0" y1="155.7" y2="267.0" stroke="#8c8c8c" stroke-width="1"/><line x1="219.1" x2="221.4" y1="174.2" y2="174.2" stroke="#222" stroke-width="1"/><line x1="219.1" x2="221.4" y1="192.8" y2="192.8" stroke="#222" stroke-width="1"/><line x1="219.1" x2="221.4" y1="211.3" y2="211.3" stroke="#222" stroke-width="1"/><line x1="219.1" x2="221.4" y1="229.9" y2="229.9" stroke="#222" stroke-width="1"/><line x1="219.1" x2="221.4" y1="248.4" y2="248.4" stroke="#222" stroke-width="1"/><text x="60.9" y="163.8" text-anchor="middle" font-size="8" fill="#828282">1998</text><text x="89.3" y="163.8" text-anchor="middle" font-size="8" fill="#828282">1999</text><text x="115.6" y="163.8" text-anchor="middle" font-size="8" fill="#828282">2000</text><text x="146.3" y="163.8" text-anchor="middle" font-size="8" fill="#828282">2001</text><text x="176.1" y="163.8" text-anchor="middle" font-size="8" fill="#828282">2002</text><text x="204.0" y="163.8" text-anchor="middle" font-size="8" fill="#828282">2003</text><path d="M50.5,168.9 L53.0,169.2 L55.4,168.1 L58.3,166.8 L61.0,164.4 L63.5,168.4 L66.4,167.3 L69.1,168.9 L71.5,170.8 L72.7,172.1 L74.0,169.2 L73.2,178.9 L76.4,170.0 L78.8,167.6 L81.2,166.0 L83.7,162.8 L86.1,162.4 L88.5,162.8 L90.9,163.6 L93.4,164.1 L95.8,164.6 L98.2,165.3 L99.1,170.1 L100.1,175.7 L101.3,179.5 L103.2,173.1 L105.5,171.9 L107.8,170.4 L110.1,171.2 L112.3,168.4 L114.5,168.0 L116.7,171.3 L118.0,172.3 L119.9,168.8 L122.1,168.3 L124.2,171.8 L126.3,178.5 L128.4,178.5 L130.5,172.9 L132.8,172.7 L135.1,169.5 L137.1,168.5 L139.5,167.4 L141.9,168.1 L144.4,168.8 L146.7,167.8 L148.8,165.0 L151.0,164.6 L153.4,168.8 L155.8,167.4 L157.9,173.6 L159.4,180.6 L160.1,177.1 L160.6,172.9 L163.1,171.6 L165.0,163.2 L166.5,166.2 L169.1,166.2 L171.9,166.0 L174.2,164.4 L176.0,170.4 L178.4,171.3 L179.2,174.0 L181.2,176.4 L182.0,179.2 L183.8,180.8 L184.2,183.6 L186.3,184.8 L186.4,188.2 L187.4,191.7 L188.9,188.9 L191.0,177.8 L193.4,174.3 L195.6,170.9 L198.0,168.8 L200.5,169.5 L202.6,167.4 L204.9,164.6 L206.7,170.9 L209.1,176.4 L211.2,173.6 L214.3,182.7 L216.8,182.7 L218.6,174.8 L218.6,171.3" fill="none" stroke="#1a1a1a" stroke-width="1"/><rect x="48.85" y="167.25" width="3.3" height="3.3" fill="#757575" stroke="#0a0a0a" stroke-width="1.05"/><rect x="51.35" y="167.55" width="3.3" height="3.3" fill="#757575" stroke="#0a0a0a" stroke-width="1.05"/><rect x="53.75" y="166.45" width="3.3" height="3.3" fill="#757575" stroke="#0a0a0a" stroke-width="1.05"/><rect x="56.65" y="165.15" width="3.3" height="3.3" fill="#757575" stroke="#0a0a0a" stroke-width="1.05"/><rect x="59.35" y="162.75" width="3.3" height="3.3" fill="#757575" stroke="#0a0a0a" stroke-width="1.05"/><rect x="61.85" y="166.75" width="3.3" height="3.3" fill="#757575" stroke="#0a0a0a" stroke-width="1.05"/><rect x="64.75" y="165.65" width="3.3" height="3.3" fill="#757575" stroke="#0a0a0a" stroke-width="1.05"/><rect x="67.45" y="167.25" width="3.3" height="3.3" fill="#757575" stroke="#0a0a0a" stroke-width="1.05"/><rect x="69.85" y="169.15" width="3.3" height="3.3" fill="#757575" stroke="#0a0a0a" stroke-width="1.05"/><rect x="71.05" y="170.45" width="3.3" height="3.3" fill="#757575" stroke="#0a0a0a" stroke-width="1.05"/><circle cx="74.0" cy="169.2" r="1.85" fill="#fff" stroke="#0a0a0a" stroke-width="0.9"/><circle cx="73.2" cy="178.9" r="1.85" fill="#fff" stroke="#0a0a0a" stroke-width="0.9"/><rect x="74.75" y="168.35" width="3.3" height="3.3" fill="#757575" stroke="#0a0a0a" stroke-width="1.05"/><rect x="77.15" y="165.95" width="3.3" height="3.3" fill="#757575" stroke="#0a0a0a" stroke-width="1.05"/><rect x="79.55" y="164.35" width="3.3" height="3.3" fill="#757575" stroke="#0a0a0a" stroke-width="1.05"/><rect x="82.05" y="161.15" width="3.3" height="3.3" fill="#757575" stroke="#0a0a0a" stroke-width="1.05"/><rect x="84.45" y="160.75" width="3.3" height="3.3" fill="#757575" stroke="#0a0a0a" stroke-width="1.05"/><rect x="86.85" y="161.15" width="3.3" height="3.3" fill="#757575" stroke="#0a0a0a" stroke-width="1.05"/><rect x="89.25" y="161.95" width="3.3" height="3.3" fill="#757575" stroke="#0a0a0a" stroke-width="1.05"/><rect x="91.75" y="162.45" width="3.3" height="3.3" fill="#757575" stroke="#0a0a0a" stroke-width="1.05"/><rect x="94.15" y="162.95" width="3.3" height="3.3" fill="#757575" stroke="#0a0a0a" stroke-width="1.05"/><rect x="96.55" y="163.65" width="3.3" height="3.3" fill="#757575" stroke="#0a0a0a" stroke-width="1.05"/><rect x="97.45" y="168.45" width="3.3" height="3.3" fill="#757575" stroke="#0a0a0a" stroke-width="1.05"/><circle cx="100.1" cy="175.7" r="1.85" fill="#fff" stroke="#0a0a0a" stroke-width="0.9"/><circle cx="101.3" cy="179.5" r="1.85" fill="#fff" stroke="#0a0a0a" stroke-width="0.9"/><rect x="101.55" y="171.45" width="3.3" height="3.3" fill="#757575" stroke="#0a0a0a" stroke-width="1.05"/><rect x="103.85" y="170.25" width="3.3" height="3.3" fill="#757575" stroke="#0a0a0a" stroke-width="1.05"/><rect x="106.15" y="168.75" width="3.3" height="3.3" fill="#757575" stroke="#0a0a0a" stroke-width="1.05"/><rect x="108.45" y="169.55" width="3.3" height="3.3" fill="#757575" stroke="#0a0a0a" stroke-width="1.05"/><rect x="110.65" y="166.75" width="3.3" height="3.3" fill="#757575" stroke="#0a0a0a" stroke-width="1.05"/><rect x="112.85" y="166.35" width="3.3" height="3.3" fill="#757575" stroke="#0a0a0a" stroke-width="1.05"/><rect x="115.05" y="169.65" width="3.3" height="3.3" fill="#757575" stroke="#0a0a0a" stroke-width="1.05"/><rect x="116.35" y="170.65" width="3.3" height="3.3" fill="#757575" stroke="#0a0a0a" stroke-width="1.05"/><rect x="118.25" y="167.15" width="3.3" height="3.3" fill="#757575" stroke="#0a0a0a" stroke-width="1.05"/><rect x="120.45" y="166.65" width="3.3" height="3.3" fill="#757575" stroke="#0a0a0a" stroke-width="1.05"/><rect x="122.55" y="170.15" width="3.3" height="3.3" fill="#757575" stroke="#0a0a0a" stroke-width="1.05"/><circle cx="126.3" cy="178.5" r="1.85" fill="#fff" stroke="#0a0a0a" stroke-width="0.9"/><circle cx="128.4" cy="178.5" r="1.85" fill="#fff" stroke="#0a0a0a" stroke-width="0.9"/><rect x="128.85" y="171.25" width="3.3" height="3.3" fill="#757575" stroke="#0a0a0a" stroke-width="1.05"/><rect x="131.15" y="171.05" width="3.3" height="3.3" fill="#757575" stroke="#0a0a0a" stroke-width="1.05"/><rect x="133.45" y="167.85" width="3.3" height="3.3" fill="#757575" stroke="#0a0a0a" stroke-width="1.05"/><rect x="135.45" y="166.85" width="3.3" height="3.3" fill="#757575" stroke="#0a0a0a" stroke-width="1.05"/><rect x="137.85" y="165.75" width="3.3" height="3.3" fill="#757575" stroke="#0a0a0a" stroke-width="1.05"/><rect x="140.25" y="166.45" width="3.3" height="3.3" fill="#757575" stroke="#0a0a0a" stroke-width="1.05"/><rect x="142.75" y="167.15" width="3.3" height="3.3" fill="#757575" stroke="#0a0a0a" stroke-width="1.05"/><rect x="145.05" y="166.15" width="3.3" height="3.3" fill="#757575" stroke="#0a0a0a" stroke-width="1.05"/><rect x="147.15" y="163.35" width="3.3" height="3.3" fill="#757575" stroke="#0a0a0a" stroke-width="1.05"/><rect x="149.35" y="162.95" width="3.3" height="3.3" fill="#757575" stroke="#0a0a0a" stroke-width="1.05"/><rect x="151.75" y="167.15" width="3.3" height="3.3" fill="#757575" stroke="#0a0a0a" stroke-width="1.05"/><rect x="154.15" y="165.75" width="3.3" height="3.3" fill="#757575" stroke="#0a0a0a" stroke-width="1.05"/><rect x="156.25" y="171.95" width="3.3" height="3.3" fill="#757575" stroke="#0a0a0a" stroke-width="1.05"/><circle cx="159.4" cy="180.6" r="1.85" fill="#fff" stroke="#0a0a0a" stroke-width="0.9"/><circle cx="160.1" cy="177.1" r="1.85" fill="#fff" stroke="#0a0a0a" stroke-width="0.9"/><rect x="158.95" y="171.25" width="3.3" height="3.3" fill="#757575" stroke="#0a0a0a" stroke-width="1.05"/><rect x="161.45" y="169.95" width="3.3" height="3.3" fill="#757575" stroke="#0a0a0a" stroke-width="1.05"/><rect x="163.35" y="161.55" width="3.3" height="3.3" fill="#757575" stroke="#0a0a0a" stroke-width="1.05"/><rect x="164.85" y="164.55" width="3.3" height="3.3" fill="#757575" stroke="#0a0a0a" stroke-width="1.05"/><rect x="167.45" y="164.55" width="3.3" height="3.3" fill="#757575" stroke="#0a0a0a" stroke-width="1.05"/><rect x="170.25" y="164.35" width="3.3" height="3.3" fill="#757575" stroke="#0a0a0a" stroke-width="1.05"/><rect x="172.55" y="162.75" width="3.3" height="3.3" fill="#757575" stroke="#0a0a0a" stroke-width="1.05"/><rect x="174.35" y="168.75" width="3.3" height="3.3" fill="#757575" stroke="#0a0a0a" stroke-width="1.05"/><rect x="176.75" y="169.65" width="3.3" height="3.3" fill="#757575" stroke="#0a0a0a" stroke-width="1.05"/><rect x="177.55" y="172.35" width="3.3" height="3.3" fill="#757575" stroke="#0a0a0a" stroke-width="1.05"/><rect x="179.55" y="174.75" width="3.3" height="3.3" fill="#757575" stroke="#0a0a0a" stroke-width="1.05"/><rect x="180.35" y="177.55" width="3.3" height="3.3" fill="#757575" stroke="#0a0a0a" stroke-width="1.05"/><rect x="182.15" y="179.15" width="3.3" height="3.3" fill="#757575" stroke="#0a0a0a" stroke-width="1.05"/><rect x="182.55" y="181.95" width="3.3" height="3.3" fill="#757575" stroke="#0a0a0a" stroke-width="1.05"/><rect x="184.65" y="183.15" width="3.3" height="3.3" fill="#757575" stroke="#0a0a0a" stroke-width="1.05"/><rect x="184.75" y="186.55" width="3.3" height="3.3" fill="#757575" stroke="#0a0a0a" stroke-width="1.05"/><circle cx="187.4" cy="191.7" r="1.85" fill="#fff" stroke="#0a0a0a" stroke-width="0.9"/><circle cx="188.9" cy="188.9" r="1.85" fill="#fff" stroke="#0a0a0a" stroke-width="0.9"/><rect x="189.35" y="176.15" width="3.3" height="3.3" fill="#757575" stroke="#0a0a0a" stroke-width="1.05"/><rect x="191.75" y="172.65" width="3.3" height="3.3" fill="#757575" stroke="#0a0a0a" stroke-width="1.05"/><rect x="193.95" y="169.25" width="3.3" height="3.3" fill="#757575" stroke="#0a0a0a" stroke-width="1.05"/><rect x="196.35" y="167.15" width="3.3" height="3.3" fill="#757575" stroke="#0a0a0a" stroke-width="1.05"/><rect x="198.85" y="167.85" width="3.3" height="3.3" fill="#757575" stroke="#0a0a0a" stroke-width="1.05"/><rect x="200.95" y="165.75" width="3.3" height="3.3" fill="#757575" stroke="#0a0a0a" stroke-width="1.05"/><rect x="203.25" y="162.95" width="3.3" height="3.3" fill="#757575" stroke="#0a0a0a" stroke-width="1.05"/><rect x="205.05" y="169.25" width="3.3" height="3.3" fill="#757575" stroke="#0a0a0a" stroke-width="1.05"/><rect x="207.45" y="174.75" width="3.3" height="3.3" fill="#757575" stroke="#0a0a0a" stroke-width="1.05"/><rect x="209.55" y="171.95" width="3.3" height="3.3" fill="#757575" stroke="#0a0a0a" stroke-width="1.05"/><rect x="212.65" y="181.05" width="3.3" height="3.3" fill="#757575" stroke="#0a0a0a" stroke-width="1.05"/><rect x="215.15" y="181.05" width="3.3" height="3.3" fill="#757575" stroke="#0a0a0a" stroke-width="1.05"/><circle cx="218.6" cy="174.8" r="1.85" fill="#fff" stroke="#0a0a0a" stroke-width="0.9"/><circle cx="218.6" cy="171.3" r="1.85" fill="#fff" stroke="#0a0a0a" stroke-width="0.9"/><line x1="18.8" x2="18.8" y1="155.7" y2="267.6" stroke="#222" stroke-width="1.3"/><line x1="18.3" x2="221.2" y1="155.85" y2="155.85" stroke="#303030" stroke-width="1.3"/><line x1="18.3" x2="221.2" y1="267.3" y2="267.3" stroke="#1c1c1c" stroke-width="1.4"/><line x1="218.6" x2="218.6" y1="267.0" y2="269.9" stroke="#222" stroke-width="1"/><text x="219.4" y="282.0" text-anchor="middle" font-size="10.3" fill="#000">0</text><line x1="187.9" x2="187.9" y1="267.0" y2="269.9" stroke="#222" stroke-width="1"/><text x="188.7" y="282.0" text-anchor="middle" font-size="10.3" fill="#000">2</text><line x1="157.1" x2="157.1" y1="267.0" y2="269.9" stroke="#222" stroke-width="1"/><text x="157.9" y="282.0" text-anchor="middle" font-size="10.3" fill="#000">4</text><line x1="126.4" x2="126.4" y1="267.0" y2="269.9" stroke="#222" stroke-width="1"/><text x="127.2" y="282.0" text-anchor="middle" font-size="10.3" fill="#000">6</text><line x1="95.6" x2="95.6" y1="267.0" y2="269.9" stroke="#222" stroke-width="1"/><text x="96.4" y="282.0" text-anchor="middle" font-size="10.3" fill="#000">8</text><line x1="64.9" x2="64.9" y1="267.0" y2="269.9" stroke="#222" stroke-width="1"/><text x="65.7" y="282.0" text-anchor="middle" font-size="10.3" fill="#000">10</text><line x1="34.2" x2="34.2" y1="267.0" y2="269.9" stroke="#222" stroke-width="1"/><text x="35.0" y="282.0" text-anchor="middle" font-size="10.3" fill="#000">12</text><text x="19.0" y="152.8" font-size="9.05" fill="#000">REN-Sp14</text></g>
<g><rect x="274.5" y="155.7" width="21.8" height="111.3" fill="#e2e2e2"/><rect x="386.4" y="155.7" width="21.4" height="111.3" fill="#e2e2e2"/><line x1="274.5" x2="274.5" y1="155.7" y2="267.0" stroke="#b2b2b2" stroke-width="1.3"/><line x1="296.3" x2="296.3" y1="155.7" y2="267.0" stroke="#b2b2b2" stroke-width="1.3"/><line x1="333.4" x2="333.4" y1="155.7" y2="267.0" stroke="#c8c8c8" stroke-width="1"/><line x1="386.4" x2="386.4" y1="155.7" y2="267.0" stroke="#b2b2b2" stroke-width="1.3"/><line x1="407.8" x2="407.8" y1="155.7" y2="267.0" stroke="#b2b2b2" stroke-width="1.3"/><line x1="430.3" x2="430.3" y1="155.7" y2="267.0" stroke="#8c8c8c" stroke-width="1"/><line x1="430.4" x2="432.7" y1="174.2" y2="174.2" stroke="#222" stroke-width="1"/><line x1="430.4" x2="432.7" y1="192.8" y2="192.8" stroke="#222" stroke-width="1"/><line x1="430.4" x2="432.7" y1="211.3" y2="211.3" stroke="#222" stroke-width="1"/><line x1="430.4" x2="432.7" y1="229.9" y2="229.9" stroke="#222" stroke-width="1"/><line x1="430.4" x2="432.7" y1="248.4" y2="248.4" stroke="#222" stroke-width="1"/><text x="286.0" y="163.8" text-anchor="middle" font-size="8" fill="#828282">2000</text><text x="315.0" y="163.8" text-anchor="middle" font-size="8" fill="#828282">2001</text><text x="361.3" y="163.8" text-anchor="middle" font-size="8" fill="#828282">2002</text><text x="397.0" y="163.8" text-anchor="middle" font-size="8" fill="#828282">2003</text><text x="419.6" y="163.8" text-anchor="middle" font-size="8" fill="#828282">2004</text><path d="M275.8,194.8 L278.9,188.2 L282.4,192.1 L285.4,202.9 L288.9,197.7 L291.8,183.4 L294.2,183.4 L297.8,211.6 L301.0,210.9 L304.1,205.1 L306.8,194.9 L310.1,199.3 L313.6,198.4 L316.4,188.6 L319.8,189.1 L322.6,190.1 L324.7,187.2 L326.6,185.8 L328.4,184.3 L329.6,180.7 L331.0,183.7 L333.1,184.6 L334.4,214.4 L337.6,209.8 L340.6,212.1 L344.1,213.9 L344.1,206.3 L347.6,211.9 L347.2,203.5 L350.4,201.4 L351.1,205.6 L353.8,201.4 L354.3,207.0 L357.3,202.8 L357.3,208.4 L359.7,212.3 L360.8,203.5 L360.8,208.4 L363.9,201.4 L363.6,207.7 L366.4,204.9 L368.4,207.0 L370.1,208.4 L371.5,210.9 L373.3,202.8 L374.7,207.7 L376.5,200.6 L378.3,204.0 L379.3,210.0 L380.9,207.5 L382.6,211.8 L384.4,214.4 L386.1,212.3 L387.0,196.3 L389.0,200.9 L390.4,196.3 L393.3,192.8 L396.5,189.0 L399.6,175.5 L401.6,170.7 L403.7,170.0 L405.1,174.2 L406.8,182.5 L408.5,201.5 L411.1,199.4 L413.7,201.5 L416.3,200.9 L418.9,199.7 L421.5,195.4 L423.2,193.7 L425.0,192.8 L426.7,193.7 L427.9,228.7 L429.8,195.8" fill="none" stroke="#1a1a1a" stroke-width="1"/><rect x="274.15" y="193.15" width="3.3" height="3.3" fill="#757575" stroke="#0a0a0a" stroke-width="1.05"/><rect x="277.25" y="186.55" width="3.3" height="3.3" fill="#757575" stroke="#0a0a0a" stroke-width="1.05"/><rect x="280.75" y="190.45" width="3.3" height="3.3" fill="#757575" stroke="#0a0a0a" stroke-width="1.05"/><rect x="283.75" y="201.25" width="3.3" height="3.3" fill="#757575" stroke="#0a0a0a" stroke-width="1.05"/><rect x="287.25" y="196.05" width="3.3" height="3.3" fill="#757575" stroke="#0a0a0a" stroke-width="1.05"/><circle cx="291.8" cy="183.4" r="1.85" fill="#fff" stroke="#0a0a0a" stroke-width="0.9"/><circle cx="294.2" cy="183.4" r="1.85" fill="#fff" stroke="#0a0a0a" stroke-width="0.9"/><rect x="296.15" y="209.95" width="3.3" height="3.3" fill="#757575" stroke="#0a0a0a" stroke-width="1.05"/><rect x="299.35" y="209.25" width="3.3" height="3.3" fill="#757575" stroke="#0a0a0a" stroke-width="1.05"/><rect x="302.45" y="203.45" width="3.3" height="3.3" fill="#757575" stroke="#0a0a0a" stroke-width="1.05"/><rect x="305.15" y="193.25" width="3.3" height="3.3" fill="#757575" stroke="#0a0a0a" stroke-width="1.05"/><rect x="308.45" y="197.65" width="3.3" height="3.3" fill="#757575" stroke="#0a0a0a" stroke-width="1.05"/><rect x="311.95" y="196.75" width="3.3" height="3.3" fill="#757575" stroke="#0a0a0a" stroke-width="1.05"/><rect x="314.75" y="186.95" width="3.3" height="3.3" fill="#757575" stroke="#0a0a0a" stroke-width="1.05"/><rect x="318.15" y="187.45" width="3.3" height="3.3" fill="#757575" stroke="#0a0a0a" stroke-width="1.05"/><rect x="320.95" y="188.45" width="3.3" height="3.3" fill="#757575" stroke="#0a0a0a" stroke-width="1.05"/><rect x="323.05" y="185.55" width="3.3" height="3.3" fill="#757575" stroke="#0a0a0a" stroke-width="1.05"/><rect x="324.95" y="184.15" width="3.3" height="3.3" fill="#757575" stroke="#0a0a0a" stroke-width="1.05"/><rect x="326.75" y="182.65" width="3.3" height="3.3" fill="#757575" stroke="#0a0a0a" stroke-width="1.05"/><circle cx="329.6" cy="180.7" r="1.85" fill="#fff" stroke="#0a0a0a" stroke-width="0.9"/><circle cx="331.0" cy="183.7" r="1.85" fill="#fff" stroke="#0a0a0a" stroke-width="0.9"/><circle cx="333.1" cy="184.6" r="1.85" fill="#fff" stroke="#0a0a0a" stroke-width="0.9"/><rect x="332.75" y="212.75" width="3.3" height="3.3" fill="#757575" stroke="#0a0a0a" stroke-width="1.05"/><rect x="335.95" y="208.15" width="3.3" height="3.3" fill="#757575" stroke="#0a0a0a" stroke-width="1.05"/><rect x="338.95" y="210.45" width="3.3" height="3.3" fill="#757575" stroke="#0a0a0a" stroke-width="1.05"/><rect x="342.45" y="212.25" width="3.3" height="3.3" fill="#757575" stroke="#0a0a0a" stroke-width="1.05"/><rect x="342.45" y="204.65" width="3.3" height="3.3" fill="#757575" stroke="#0a0a0a" stroke-width="1.05"/><rect x="345.95" y="210.25" width="3.3" height="3.3" fill="#757575" stroke="#0a0a0a" stroke-width="1.05"/><rect x="345.55" y="201.85" width="3.3" height="3.3" fill="#757575" stroke="#0a0a0a" stroke-width="1.05"/><rect x="348.75" y="199.75" width="3.3" height="3.3" fill="#757575" stroke="#0a0a0a" stroke-width="1.05"/><rect x="349.45" y="203.95" width="3.3" height="3.3" fill="#757575" stroke="#0a0a0a" stroke-width="1.05"/><rect x="352.15" y="199.75" width="3.3" height="3.3" fill="#757575" stroke="#0a0a0a" stroke-width="1.05"/><rect x="352.65" y="205.35" width="3.3" height="3.3" fill="#757575" stroke="#0a0a0a" stroke-width="1.05"/><rect x="355.65" y="201.15" width="3.3" height="3.3" fill="#757575" stroke="#0a0a0a" stroke-width="1.05"/><rect x="355.65" y="206.75" width="3.3" height="3.3" fill="#757575" stroke="#0a0a0a" stroke-width="1.05"/><rect x="358.05" y="210.65" width="3.3" height="3.3" fill="#757575" stroke="#0a0a0a" stroke-width="1.05"/><rect x="359.15" y="201.85" width="3.3" height="3.3" fill="#757575" stroke="#0a0a0a" stroke-width="1.05"/><rect x="359.15" y="206.75" width="3.3" height="3.3" fill="#757575" stroke="#0a0a0a" stroke-width="1.05"/><rect x="362.25" y="199.75" width="3.3" height="3.3" fill="#757575" stroke="#0a0a0a" stroke-width="1.05"/><rect x="361.95" y="206.05" width="3.3" height="3.3" fill="#757575" stroke="#0a0a0a" stroke-width="1.05"/><rect x="364.75" y="203.25" width="3.3" height="3.3" fill="#757575" stroke="#0a0a0a" stroke-width="1.05"/><rect x="366.75" y="205.35" width="3.3" height="3.3" fill="#757575" stroke="#0a0a0a" stroke-width="1.05"/><rect x="368.45" y="206.75" width="3.3" height="3.3" fill="#757575" stroke="#0a0a0a" stroke-width="1.05"/><rect x="369.85" y="209.25" width="3.3" height="3.3" fill="#757575" stroke="#0a0a0a" stroke-width="1.05"/><rect x="371.65" y="201.15" width="3.3" height="3.3" fill="#757575" stroke="#0a0a0a" stroke-width="1.05"/><rect x="373.05" y="206.05" width="3.3" height="3.3" fill="#757575" stroke="#0a0a0a" stroke-width="1.05"/><rect x="374.85" y="198.95" width="3.3" height="3.3" fill="#757575" stroke="#0a0a0a" stroke-width="1.05"/><rect x="376.65" y="202.35" width="3.3" height="3.3" fill="#757575" stroke="#0a0a0a" stroke-width="1.05"/><rect x="377.65" y="208.35" width="3.3" height="3.3" fill="#757575" stroke="#0a0a0a" stroke-width="1.05"/><rect x="379.25" y="205.85" width="3.3" height="3.3" fill="#757575" stroke="#0a0a0a" stroke-width="1.05"/><circle cx="382.6" cy="211.8" r="1.85" fill="#fff" stroke="#0a0a0a" stroke-width="0.9"/><circle cx="384.4" cy="214.4" r="1.85" fill="#fff" stroke="#0a0a0a" stroke-width="0.9"/><circle cx="386.1" cy="212.3" r="1.85" fill="#fff" stroke="#0a0a0a" stroke-width="0.9"/><rect x="385.35" y="194.65" width="3.3" height="3.3" fill="#757575" stroke="#0a0a0a" stroke-width="1.05"/><rect x="387.35" y="199.25" width="3.3" height="3.3" fill="#757575" stroke="#0a0a0a" stroke-width="1.05"/><rect x="388.75" y="194.65" width="3.3" height="3.3" fill="#757575" stroke="#0a0a0a" stroke-width="1.05"/><rect x="391.65" y="191.15" width="3.3" height="3.3" fill="#757575" stroke="#0a0a0a" stroke-width="1.05"/><rect x="394.85" y="187.35" width="3.3" height="3.3" fill="#757575" stroke="#0a0a0a" stroke-width="1.05"/><rect x="397.95" y="173.85" width="3.3" height="3.3" fill="#757575" stroke="#0a0a0a" stroke-width="1.05"/><rect x="399.95" y="169.05" width="3.3" height="3.3" fill="#757575" stroke="#0a0a0a" stroke-width="1.05"/><circle cx="403.7" cy="170.0" r="1.85" fill="#fff" stroke="#0a0a0a" stroke-width="0.9"/><circle cx="405.1" cy="174.2" r="1.85" fill="#fff" stroke="#0a0a0a" stroke-width="0.9"/><circle cx="406.8" cy="182.5" r="1.85" fill="#fff" stroke="#0a0a0a" stroke-width="0.9"/><rect x="406.85" y="199.85" width="3.3" height="3.3" fill="#757575" stroke="#0a0a0a" stroke-width="1.05"/><rect x="409.45" y="197.75" width="3.3" height="3.3" fill="#757575" stroke="#0a0a0a" stroke-width="1.05"/><rect x="412.05" y="199.85" width="3.3" height="3.3" fill="#757575" stroke="#0a0a0a" stroke-width="1.05"/><rect x="414.65" y="199.25" width="3.3" height="3.3" fill="#757575" stroke="#0a0a0a" stroke-width="1.05"/><rect x="417.25" y="198.05" width="3.3" height="3.3" fill="#757575" stroke="#0a0a0a" stroke-width="1.05"/><rect x="419.85" y="193.75" width="3.3" height="3.3" fill="#757575" stroke="#0a0a0a" stroke-width="1.05"/><rect x="421.55" y="192.05" width="3.3" height="3.3" fill="#757575" stroke="#0a0a0a" stroke-width="1.05"/><rect x="423.35" y="191.15" width="3.3" height="3.3" fill="#757575" stroke="#0a0a0a" stroke-width="1.05"/><rect x="425.05" y="192.05" width="3.3" height="3.3" fill="#757575" stroke="#0a0a0a" stroke-width="1.05"/><circle cx="427.9" cy="228.7" r="1.85" fill="#fff" stroke="#0a0a0a" stroke-width="0.9"/><circle cx="429.8" cy="195.8" r="1.85" fill="#fff" stroke="#0a0a0a" stroke-width="0.9"/><line x1="230.1" x2="230.1" y1="155.7" y2="267.6" stroke="#222" stroke-width="1.3"/><line x1="229.6" x2="432.5" y1="155.85" y2="155.85" stroke="#303030" stroke-width="1.3"/><line x1="229.6" x2="432.5" y1="267.3" y2="267.3" stroke="#1c1c1c" stroke-width="1.4"/><line x1="429.9" x2="429.9" y1="267.0" y2="269.9" stroke="#222" stroke-width="1"/><text x="430.7" y="282.0" text-anchor="middle" font-size="10.3" fill="#000">0</text><line x1="399.2" x2="399.2" y1="267.0" y2="269.9" stroke="#222" stroke-width="1"/><text x="400.0" y="282.0" text-anchor="middle" font-size="10.3" fill="#000">2</text><line x1="368.4" x2="368.4" y1="267.0" y2="269.9" stroke="#222" stroke-width="1"/><text x="369.2" y="282.0" text-anchor="middle" font-size="10.3" fill="#000">4</text><line x1="337.7" x2="337.7" y1="267.0" y2="269.9" stroke="#222" stroke-width="1"/><text x="338.5" y="282.0" text-anchor="middle" font-size="10.3" fill="#000">6</text><line x1="306.9" x2="306.9" y1="267.0" y2="269.9" stroke="#222" stroke-width="1"/><text x="307.7" y="282.0" text-anchor="middle" font-size="10.3" fill="#000">8</text><line x1="276.2" x2="276.2" y1="267.0" y2="269.9" stroke="#222" stroke-width="1"/><text x="277.0" y="282.0" text-anchor="middle" font-size="10.3" fill="#000">10</text><line x1="245.5" x2="245.5" y1="267.0" y2="269.9" stroke="#222" stroke-width="1"/><text x="246.3" y="282.0" text-anchor="middle" font-size="10.3" fill="#000">12</text><text x="230.3" y="152.8" font-size="9.05" fill="#000">HAI-Sp3016</text></g>
<g><rect x="521.2" y="155.7" width="23.5" height="111.3" fill="#e2e2e2"/><rect x="588.2" y="155.7" width="30.3" height="111.3" fill="#e2e2e2"/><line x1="521.2" x2="521.2" y1="155.7" y2="267.0" stroke="#b2b2b2" stroke-width="1.3"/><line x1="544.7" x2="544.7" y1="155.7" y2="267.0" stroke="#b2b2b2" stroke-width="1.3"/><line x1="565.9" x2="565.9" y1="155.7" y2="267.0" stroke="#c8c8c8" stroke-width="1"/><line x1="588.2" x2="588.2" y1="155.7" y2="267.0" stroke="#b2b2b2" stroke-width="1.3"/><line x1="618.5" x2="618.5" y1="155.7" y2="267.0" stroke="#b2b2b2" stroke-width="1.3"/><text x="534.2" y="163.8" text-anchor="middle" font-size="8" fill="#828282">1999</text><text x="555.5" y="163.8" text-anchor="middle" font-size="8" fill="#828282">2000</text><text x="578.0" y="163.8" text-anchor="middle" font-size="8" fill="#828282">2001</text><text x="604.4" y="163.8" text-anchor="middle" font-size="8" fill="#828282">2002</text><text x="630.9" y="163.8" text-anchor="middle" font-size="8" fill="#828282">2003</text><path d="M523.1,239.9 L525.4,237.2 L525.0,230.9 L527.8,232.7 L527.2,225.8 L529.6,223.9 L531.0,221.4 L533.1,220.5 L535.2,219.8 L537.3,219.5 L539.3,215.3 L542.1,226.7 L544.9,239.9 L547.3,242.7 L549.1,237.2 L551.9,232.3 L554.4,233.7 L556.4,227.4 L559.2,226.4 L561.3,220.2 L563.7,220.2 L564.4,225.3 L567.2,226.4 L568.5,221.9 L570.6,220.5 L572.7,219.8 L574.8,218.8 L576.2,218.4 L578.3,222.6 L580.4,223.2 L582.5,222.8 L585.9,222.8 L588.9,218.7 L591.3,215.1 L591.2,206.6 L593.8,206.0 L596.4,204.4 L598.7,205.6 L601.0,210.3 L603.0,214.1 L605.6,213.4 L607.9,216.0 L609.3,212.4 L611.6,210.5 L614.1,208.0 L616.1,203.1 L617.5,200.7 L620.0,232.9 L622.0,224.7 L624.9,221.2 L627.4,218.3 L629.8,217.3 L631.7,213.4 L634.2,209.5 L636.6,212.8 L638.1,215.4 L639.5,223.2 L640.9,226.1" fill="none" stroke="#1a1a1a" stroke-width="1"/><rect x="521.45" y="238.25" width="3.3" height="3.3" fill="#757575" stroke="#0a0a0a" stroke-width="1.05"/><rect x="523.75" y="235.55" width="3.3" height="3.3" fill="#757575" stroke="#0a0a0a" stroke-width="1.05"/><rect x="523.35" y="229.25" width="3.3" height="3.3" fill="#757575" stroke="#0a0a0a" stroke-width="1.05"/><rect x="526.15" y="231.05" width="3.3" height="3.3" fill="#757575" stroke="#0a0a0a" stroke-width="1.05"/><rect x="525.55" y="224.15" width="3.3" height="3.3" fill="#757575" stroke="#0a0a0a" stroke-width="1.05"/><rect x="527.95" y="222.25" width="3.3" height="3.3" fill="#757575" stroke="#0a0a0a" stroke-width="1.05"/><rect x="529.35" y="219.75" width="3.3" height="3.3" fill="#757575" stroke="#0a0a0a" stroke-width="1.05"/><rect x="531.45" y="218.85" width="3.3" height="3.3" fill="#757575" stroke="#0a0a0a" stroke-width="1.05"/><rect x="533.55" y="218.15" width="3.3" height="3.3" fill="#757575" stroke="#0a0a0a" stroke-width="1.05"/><rect x="535.65" y="217.85" width="3.3" height="3.3" fill="#757575" stroke="#0a0a0a" stroke-width="1.05"/><circle cx="539.3" cy="215.3" r="1.85" fill="#fff" stroke="#0a0a0a" stroke-width="0.9"/><circle cx="542.1" cy="226.7" r="1.85" fill="#fff" stroke="#0a0a0a" stroke-width="0.9"/><rect x="543.25" y="238.25" width="3.3" height="3.3" fill="#757575" stroke="#0a0a0a" stroke-width="1.05"/><rect x="545.65" y="241.05" width="3.3" height="3.3" fill="#757575" stroke="#0a0a0a" stroke-width="1.05"/><rect x="547.45" y="235.55" width="3.3" height="3.3" fill="#757575" stroke="#0a0a0a" stroke-width="1.05"/><rect x="550.25" y="230.65" width="3.3" height="3.3" fill="#757575" stroke="#0a0a0a" stroke-width="1.05"/><rect x="552.75" y="232.05" width="3.3" height="3.3" fill="#757575" stroke="#0a0a0a" stroke-width="1.05"/><rect x="554.75" y="225.75" width="3.3" height="3.3" fill="#757575" stroke="#0a0a0a" stroke-width="1.05"/><rect x="557.55" y="224.75" width="3.3" height="3.3" fill="#757575" stroke="#0a0a0a" stroke-width="1.05"/><circle cx="561.3" cy="220.2" r="1.85" fill="#fff" stroke="#0a0a0a" stroke-width="0.9"/><circle cx="563.7" cy="220.2" r="1.85" fill="#fff" stroke="#0a0a0a" stroke-width="0.9"/><circle cx="564.4" cy="225.3" r="1.85" fill="#fff" stroke="#0a0a0a" stroke-width="0.9"/><rect x="565.55" y="224.75" width="3.3" height="3.3" fill="#757575" stroke="#0a0a0a" stroke-width="1.05"/><rect x="566.85" y="220.25" width="3.3" height="3.3" fill="#757575" stroke="#0a0a0a" stroke-width="1.05"/><rect x="568.95" y="218.85" width="3.3" height="3.3" fill="#757575" stroke="#0a0a0a" stroke-width="1.05"/><rect x="571.05" y="218.15" width="3.3" height="3.3" fill="#757575" stroke="#0a0a0a" stroke-width="1.05"/><rect x="573.15" y="217.15" width="3.3" height="3.3" fill="#757575" stroke="#0a0a0a" stroke-width="1.05"/><rect x="574.55" y="216.75" width="3.3" height="3.3" fill="#757575" stroke="#0a0a0a" stroke-width="1.05"/><rect x="576.65" y="220.95" width="3.3" height="3.3" fill="#757575" stroke="#0a0a0a" stroke-width="1.05"/><rect x="578.75" y="221.55" width="3.3" height="3.3" fill="#757575" stroke="#0a0a0a" stroke-width="1.05"/><circle cx="582.5" cy="222.8" r="1.85" fill="#fff" stroke="#0a0a0a" stroke-width="0.9"/><circle cx="585.9" cy="222.8" r="1.85" fill="#fff" stroke="#0a0a0a" stroke-width="0.9"/><rect x="587.25" y="217.05" width="3.3" height="3.3" fill="#757575" stroke="#0a0a0a" stroke-width="1.05"/><rect x="589.65" y="213.45" width="3.3" height="3.3" fill="#757575" stroke="#0a0a0a" stroke-width="1.05"/><rect x="589.55" y="204.95" width="3.3" height="3.3" fill="#757575" stroke="#0a0a0a" stroke-width="1.05"/><rect x="592.15" y="204.35" width="3.3" height="3.3" fill="#757575" stroke="#0a0a0a" stroke-width="1.05"/><rect x="594.75" y="202.75" width="3.3" height="3.3" fill="#757575" stroke="#0a0a0a" stroke-width="1.05"/><rect x="597.05" y="203.95" width="3.3" height="3.3" fill="#757575" stroke="#0a0a0a" stroke-width="1.05"/><rect x="599.35" y="208.65" width="3.3" height="3.3" fill="#757575" stroke="#0a0a0a" stroke-width="1.05"/><rect x="601.35" y="212.45" width="3.3" height="3.3" fill="#757575" stroke="#0a0a0a" stroke-width="1.05"/><rect x="603.95" y="211.75" width="3.3" height="3.3" fill="#757575" stroke="#0a0a0a" stroke-width="1.05"/><rect x="606.25" y="214.35" width="3.3" height="3.3" fill="#757575" stroke="#0a0a0a" stroke-width="1.05"/><circle cx="609.3" cy="212.4" r="1.85" fill="#fff" stroke="#0a0a0a" stroke-width="0.9"/><circle cx="611.6" cy="210.5" r="1.85" fill="#fff" stroke="#0a0a0a" stroke-width="0.9"/><circle cx="614.1" cy="208.0" r="1.85" fill="#fff" stroke="#0a0a0a" stroke-width="0.9"/><circle cx="616.1" cy="203.1" r="1.85" fill="#fff" stroke="#0a0a0a" stroke-width="0.9"/><circle cx="617.5" cy="200.7" r="1.85" fill="#fff" stroke="#0a0a0a" stroke-width="0.9"/><rect x="618.35" y="231.25" width="3.3" height="3.3" fill="#757575" stroke="#0a0a0a" stroke-width="1.05"/><rect x="620.35" y="223.05" width="3.3" height="3.3" fill="#757575" stroke="#0a0a0a" stroke-width="1.05"/><rect x="623.25" y="219.55" width="3.3" height="3.3" fill="#757575" stroke="#0a0a0a" stroke-width="1.05"/><rect x="625.75" y="216.65" width="3.3" height="3.3" fill="#757575" stroke="#0a0a0a" stroke-width="1.05"/><rect x="628.15" y="215.65" width="3.3" height="3.3" fill="#757575" stroke="#0a0a0a" stroke-width="1.05"/><rect x="630.05" y="211.75" width="3.3" height="3.3" fill="#757575" stroke="#0a0a0a" stroke-width="1.05"/><rect x="632.55" y="207.85" width="3.3" height="3.3" fill="#757575" stroke="#0a0a0a" stroke-width="1.05"/><rect x="634.95" y="211.15" width="3.3" height="3.3" fill="#757575" stroke="#0a0a0a" stroke-width="1.05"/><circle cx="638.1" cy="215.4" r="1.85" fill="#fff" stroke="#0a0a0a" stroke-width="0.9"/><circle cx="639.5" cy="223.2" r="1.85" fill="#fff" stroke="#0a0a0a" stroke-width="0.9"/><circle cx="640.9" cy="226.1" r="1.85" fill="#fff" stroke="#0a0a0a" stroke-width="0.9"/><line x1="441.4" x2="441.4" y1="155.7" y2="267.6" stroke="#222" stroke-width="1.3"/><line x1="440.9" x2="643.8" y1="155.85" y2="155.85" stroke="#303030" stroke-width="1.3"/><line x1="440.9" x2="643.8" y1="267.3" y2="267.3" stroke="#1c1c1c" stroke-width="1.4"/><line x1="641.6" x2="641.6" y1="155.7" y2="267.6" stroke="#222" stroke-width="1.4"/><line x1="641.2" x2="644.1" y1="155.7" y2="155.7" stroke="#222" stroke-width="1"/><text x="647.8" y="159.4" font-size="10.3" fill="#000">-22</text><line x1="641.2" x2="644.1" y1="174.2" y2="174.2" stroke="#222" stroke-width="1"/><text x="647.8" y="177.9" font-size="10.3" fill="#000">-23</text><line x1="641.2" x2="644.1" y1="192.8" y2="192.8" stroke="#222" stroke-width="1"/><text x="647.8" y="196.5" font-size="10.3" fill="#000">-24</text><line x1="641.2" x2="644.1" y1="211.3" y2="211.3" stroke="#222" stroke-width="1"/><text x="647.8" y="215.0" font-size="10.3" fill="#000">-25</text><line x1="641.2" x2="644.1" y1="229.9" y2="229.9" stroke="#222" stroke-width="1"/><text x="647.8" y="233.6" font-size="10.3" fill="#000">-26</text><line x1="641.2" x2="644.1" y1="248.4" y2="248.4" stroke="#222" stroke-width="1"/><text x="647.8" y="252.1" font-size="10.3" fill="#000">-27</text><line x1="641.2" x2="644.1" y1="267.0" y2="267.0" stroke="#222" stroke-width="1"/><text x="647.8" y="270.7" font-size="10.3" fill="#000">-28</text><line x1="641.2" x2="641.2" y1="267.0" y2="269.9" stroke="#222" stroke-width="1"/><text x="642.0" y="282.0" text-anchor="middle" font-size="10.3" fill="#000">0</text><line x1="610.5" x2="610.5" y1="267.0" y2="269.9" stroke="#222" stroke-width="1"/><text x="611.3" y="282.0" text-anchor="middle" font-size="10.3" fill="#000">2</text><line x1="579.7" x2="579.7" y1="267.0" y2="269.9" stroke="#222" stroke-width="1"/><text x="580.5" y="282.0" text-anchor="middle" font-size="10.3" fill="#000">4</text><line x1="549.0" x2="549.0" y1="267.0" y2="269.9" stroke="#222" stroke-width="1"/><text x="549.8" y="282.0" text-anchor="middle" font-size="10.3" fill="#000">6</text><line x1="518.2" x2="518.2" y1="267.0" y2="269.9" stroke="#222" stroke-width="1"/><text x="519.0" y="282.0" text-anchor="middle" font-size="10.3" fill="#000">8</text><line x1="487.5" x2="487.5" y1="267.0" y2="269.9" stroke="#222" stroke-width="1"/><text x="488.3" y="282.0" text-anchor="middle" font-size="10.3" fill="#000">10</text><line x1="456.8" x2="456.8" y1="267.0" y2="269.9" stroke="#222" stroke-width="1"/><text x="457.6" y="282.0" text-anchor="middle" font-size="10.3" fill="#000">12</text><text x="441.6" y="152.8" font-size="9.05" fill="#000">FLA-Sp9</text></g>
<g><rect x="65.8" y="300.7" width="22.6" height="111.3" fill="#e2e2e2"/><rect x="168.5" y="300.7" width="18.8" height="111.3" fill="#e2e2e2"/><rect x="203.2" y="300.7" width="15.4" height="111.3" fill="#e2e2e2"/><line x1="33.1" x2="33.1" y1="300.7" y2="412.0" stroke="#c8c8c8" stroke-width="1"/><line x1="49.4" x2="49.4" y1="300.7" y2="412.0" stroke="#c8c8c8" stroke-width="1"/><line x1="65.8" x2="65.8" y1="300.7" y2="412.0" stroke="#b2b2b2" stroke-width="1.3"/><line x1="88.4" x2="88.4" y1="300.7" y2="412.0" stroke="#b2b2b2" stroke-width="1.3"/><line x1="105.8" x2="105.8" y1="300.7" y2="412.0" stroke="#c8c8c8" stroke-width="1"/><line x1="121.2" x2="121.2" y1="300.7" y2="412.0" stroke="#c8c8c8" stroke-width="1"/><line x1="138.2" x2="138.2" y1="300.7" y2="412.0" stroke="#c8c8c8" stroke-width="1"/><line x1="153.0" x2="153.0" y1="300.7" y2="412.0" stroke="#c8c8c8" stroke-width="1"/><line x1="168.5" x2="168.5" y1="300.7" y2="412.0" stroke="#b2b2b2" stroke-width="1.3"/><line x1="187.2" x2="187.2" y1="300.7" y2="412.0" stroke="#b2b2b2" stroke-width="1.3"/><line x1="203.2" x2="203.2" y1="300.7" y2="412.0" stroke="#b2b2b2" stroke-width="1.3"/><line x1="219.0" x2="219.0" y1="300.7" y2="412.0" stroke="#8c8c8c" stroke-width="1"/><line x1="219.1" x2="221.4" y1="319.2" y2="319.2" stroke="#222" stroke-width="1"/><line x1="219.1" x2="221.4" y1="337.8" y2="337.8" stroke="#222" stroke-width="1"/><line x1="219.1" x2="221.4" y1="356.4" y2="356.4" stroke="#222" stroke-width="1"/><line x1="219.1" x2="221.4" y1="374.9" y2="374.9" stroke="#222" stroke-width="1"/><line x1="219.1" x2="221.4" y1="393.4" y2="393.4" stroke="#222" stroke-width="1"/><text transform="translate(28.9,303.5) rotate(-90)" text-anchor="end" font-size="7.5" fill="#787878">1992</text><text transform="translate(43.5,303.5) rotate(-90)" text-anchor="end" font-size="7.5" fill="#787878">1993</text><text transform="translate(59.9,303.5) rotate(-90)" text-anchor="end" font-size="7.5" fill="#787878">1994</text><text transform="translate(80.1,303.5) rotate(-90)" text-anchor="end" font-size="7.5" fill="#787878">1995</text><text transform="translate(99.7,303.5) rotate(-90)" text-anchor="end" font-size="7.5" fill="#787878">1996</text><text transform="translate(115.4,303.5) rotate(-90)" text-anchor="end" font-size="7.5" fill="#787878">1997</text><text transform="translate(132.6,303.5) rotate(-90)" text-anchor="end" font-size="7.5" fill="#787878">1998</text><text transform="translate(148.3,303.5) rotate(-90)" text-anchor="end" font-size="7.5" fill="#787878">1999</text><text transform="translate(163.2,303.5) rotate(-90)" text-anchor="end" font-size="7.5" fill="#787878">2000</text><text transform="translate(180.0,303.5) rotate(-90)" text-anchor="end" font-size="7.5" fill="#787878">2001</text><text transform="translate(198.1,303.5) rotate(-90)" text-anchor="end" font-size="7.5" fill="#787878">2002</text><text transform="translate(214.2,303.5) rotate(-90)" text-anchor="end" font-size="7.5" fill="#787878">2003</text><path d="M26.3,332.0 L28.7,323.9 L30.3,318.3 L32.0,313.9 L34.1,328.8 L35.7,334.4 L37.9,336.4 L39.2,332.3 L40.8,330.1 L42.5,328.3 L44.1,326.3 L45.7,324.2 L47.6,319.9 L50.2,335.2 L53.8,336.0 L55.4,332.3 L57.0,328.8 L59.4,328.8 L61.4,330.4 L63.0,336.8 L64.3,346.5 L66.7,349.0 L69.1,347.4 L70.7,345.7 L72.4,343.0 L74.0,341.7 L76.1,339.3 L78.0,337.7 L80.1,335.7 L82.0,334.4 L84.1,333.9 L86.9,335.7 L88.0,338.5 L90.1,342.5 L92.5,343.3 L95.0,344.9 L97.4,342.0 L99.0,336.8 L101.4,336.4 L103.5,337.3 L104.7,341.7 L107.1,351.1 L108.7,346.1 L111.1,348.7 L112.4,345.5 L115.8,340.8 L118.2,334.5 L119.3,329.1 L121.8,340.7 L123.9,340.0 L126.7,339.8 L128.8,337.0 L131.6,334.5 L133.6,331.7 L135.7,330.3 L136.0,335.6 L137.4,342.8 L138.9,349.1 L141.3,349.1 L143.4,344.9 L145.9,342.8 L148.2,343.5 L150.8,339.1 L151.7,346.3 L151.3,350.5 L153.8,355.3 L155.5,351.9 L157.3,352.6 L159.4,354.6 L161.5,354.9 L163.5,355.8 L166.0,344.6 L167.0,349.1 L169.1,352.3 L171.2,361.6 L175.4,355.3 L177.7,357.4 L180.2,351.9 L184.4,345.0 L185.5,349.5 L187.9,356.2 L190.3,355.7 L192.4,354.1 L194.9,354.2 L197.4,354.8 L199.8,355.7 L202.1,357.7 L201.3,366.1 L204.5,361.7 L206.6,352.0 L208.6,350.1 L210.5,351.6 L212.6,351.2 L214.7,351.6 L216.7,351.8 L218.5,342.8" fill="none" stroke="#1a1a1a" stroke-width="1"/><rect x="24.65" y="330.35" width="3.3" height="3.3" fill="#757575" stroke="#0a0a0a" stroke-width="1.05"/><rect x="27.05" y="322.25" width="3.3" height="3.3" fill="#757575" stroke="#0a0a0a" stroke-width="1.05"/><rect x="28.65" y="316.65" width="3.3" height="3.3" fill="#757575" stroke="#0a0a0a" stroke-width="1.05"/><circle cx="32.0" cy="313.9" r="1.85" fill="#fff" stroke="#0a0a0a" stroke-width="0.9"/><rect x="32.45" y="327.15" width="3.3" height="3.3" fill="#757575" stroke="#0a0a0a" stroke-width="1.05"/><rect x="34.05" y="332.75" width="3.3" height="3.3" fill="#757575" stroke="#0a0a0a" stroke-width="1.05"/><rect x="36.25" y="334.75" width="3.3" height="3.3" fill="#757575" stroke="#0a0a0a" stroke-width="1.05"/><rect x="37.55" y="330.65" width="3.3" height="3.3" fill="#757575" stroke="#0a0a0a" stroke-width="1.05"/><rect x="39.15" y="328.45" width="3.3" height="3.3" fill="#757575" stroke="#0a0a0a" stroke-width="1.05"/><rect x="40.85" y="326.65" width="3.3" height="3.3" fill="#757575" stroke="#0a0a0a" stroke-width="1.05"/><rect x="42.45" y="324.65" width="3.3" height="3.3" fill="#757575" stroke="#0a0a0a" stroke-width="1.05"/><rect x="44.05" y="322.55" width="3.3" height="3.3" fill="#757575" stroke="#0a0a0a" stroke-width="1.05"/><circle cx="47.6" cy="319.9" r="1.85" fill="#fff" stroke="#0a0a0a" stroke-width="0.9"/><rect x="48.55" y="333.55" width="3.3" height="3.3" fill="#757575" stroke="#0a0a0a" stroke-width="1.05"/><rect x="52.15" y="334.35" width="3.3" height="3.3" fill="#757575" stroke="#0a0a0a" stroke-width="1.05"/><rect x="53.75" y="330.65" width="3.3" height="3.3" fill="#757575" stroke="#0a0a0a" stroke-width="1.05"/><rect x="55.35" y="327.15" width="3.3" height="3.3" fill="#757575" stroke="#0a0a0a" stroke-width="1.05"/><rect x="57.75" y="327.15" width="3.3" height="3.3" fill="#757575" stroke="#0a0a0a" stroke-width="1.05"/><rect x="59.75" y="328.75" width="3.3" height="3.3" fill="#757575" stroke="#0a0a0a" stroke-width="1.05"/><circle cx="63.0" cy="336.8" r="1.85" fill="#fff" stroke="#0a0a0a" stroke-width="0.9"/><circle cx="64.3" cy="346.5" r="1.85" fill="#fff" stroke="#0a0a0a" stroke-width="0.9"/><rect x="65.05" y="347.35" width="3.3" height="3.3" fill="#757575" stroke="#0a0a0a" stroke-width="1.05"/><rect x="67.45" y="345.75" width="3.3" height="3.3" fill="#757575" stroke="#0a0a0a" stroke-width="1.05"/><rect x="69.05" y="344.05" width="3.3" height="3.3" fill="#757575" stroke="#0a0a0a" stroke-width="1.05"/><rect x="70.75" y="341.35" width="3.3" height="3.3" fill="#757575" stroke="#0a0a0a" stroke-width="1.05"/><rect x="72.35" y="340.05" width="3.3" height="3.3" fill="#757575" stroke="#0a0a0a" stroke-width="1.05"/><rect x="74.45" y="337.65" width="3.3" height="3.3" fill="#757575" stroke="#0a0a0a" stroke-width="1.05"/><rect x="76.35" y="336.05" width="3.3" height="3.3" fill="#757575" stroke="#0a0a0a" stroke-width="1.05"/><rect x="78.45" y="334.05" width="3.3" height="3.3" fill="#757575" stroke="#0a0a0a" stroke-width="1.05"/><rect x="80.35" y="332.75" width="3.3" height="3.3" fill="#757575" stroke="#0a0a0a" stroke-width="1.05"/><rect x="82.45" y="332.25" width="3.3" height="3.3" fill="#757575" stroke="#0a0a0a" stroke-width="1.05"/><circle cx="86.9" cy="335.7" r="1.85" fill="#fff" stroke="#0a0a0a" stroke-width="0.9"/><circle cx="88.0" cy="338.5" r="1.85" fill="#fff" stroke="#0a0a0a" stroke-width="0.9"/><rect x="88.45" y="340.85" width="3.3" height="3.3" fill="#757575" stroke="#0a0a0a" stroke-width="1.05"/><rect x="90.85" y="341.65" width="3.3" height="3.3" fill="#757575" stroke="#0a0a0a" stroke-width="1.05"/><rect x="93.35" y="343.25" width="3.3" height="3.3" fill="#757575" stroke="#0a0a0a" stroke-width="1.05"/><rect x="95.75" y="340.35" width="3.3" height="3.3" fill="#757575" stroke="#0a0a0a" stroke-width="1.05"/><rect x="97.35" y="335.15" width="3.3" height="3.3" fill="#757575" stroke="#0a0a0a" stroke-width="1.05"/><rect x="99.75" y="334.75" width="3.3" height="3.3" fill="#757575" stroke="#0a0a0a" stroke-width="1.05"/><circle cx="103.5" cy="337.3" r="1.85" fill="#fff" stroke="#0a0a0a" stroke-width="0.9"/><circle cx="104.7" cy="341.7" r="1.85" fill="#fff" stroke="#0a0a0a" stroke-width="0.9"/><rect x="105.45" y="349.45" width="3.3" height="3.3" fill="#757575" stroke="#0a0a0a" stroke-width="1.05"/><rect x="107.05" y="344.45" width="3.3" height="3.3" fill="#757575" stroke="#0a0a0a" stroke-width="1.05"/><rect x="109.45" y="347.05" width="3.3" height="3.3" fill="#757575" stroke="#0a0a0a" stroke-width="1.05"/><rect x="110.75" y="343.85" width="3.3" height="3.3" fill="#757575" stroke="#0a0a0a" stroke-width="1.05"/><rect x="114.15" y="339.15" width="3.3" height="3.3" fill="#757575" stroke="#0a0a0a" stroke-width="1.05"/><rect x="116.55" y="332.85" width="3.3" height="3.3" fill="#757575" stroke="#0a0a0a" stroke-width="1.05"/><circle cx="119.3" cy="329.1" r="1.85" fill="#fff" stroke="#0a0a0a" stroke-width="0.9"/><rect x="120.15" y="339.05" width="3.3" height="3.3" fill="#757575" stroke="#0a0a0a" stroke-width="1.05"/><rect x="122.25" y="338.35" width="3.3" height="3.3" fill="#757575" stroke="#0a0a0a" stroke-width="1.05"/><rect x="125.05" y="338.15" width="3.3" height="3.3" fill="#757575" stroke="#0a0a0a" stroke-width="1.05"/><rect x="127.15" y="335.35" width="3.3" height="3.3" fill="#757575" stroke="#0a0a0a" stroke-width="1.05"/><rect x="129.95" y="332.85" width="3.3" height="3.3" fill="#757575" stroke="#0a0a0a" stroke-width="1.05"/><rect x="131.95" y="330.05" width="3.3" height="3.3" fill="#757575" stroke="#0a0a0a" stroke-width="1.05"/><rect x="134.05" y="328.65" width="3.3" height="3.3" fill="#757575" stroke="#0a0a0a" stroke-width="1.05"/><rect x="134.35" y="333.95" width="3.3" height="3.3" fill="#757575" stroke="#0a0a0a" stroke-width="1.05"/><circle cx="137.4" cy="342.8" r="1.85" fill="#fff" stroke="#0a0a0a" stroke-width="0.9"/><rect x="137.25" y="347.45" width="3.3" height="3.3" fill="#757575" stroke="#0a0a0a" stroke-width="1.05"/><rect x="139.65" y="347.45" width="3.3" height="3.3" fill="#757575" stroke="#0a0a0a" stroke-width="1.05"/><rect x="141.75" y="343.25" width="3.3" height="3.3" fill="#757575" stroke="#0a0a0a" stroke-width="1.05"/><rect x="144.25" y="341.15" width="3.3" height="3.3" fill="#757575" stroke="#0a0a0a" stroke-width="1.05"/><rect x="146.55" y="341.85" width="3.3" height="3.3" fill="#757575" stroke="#0a0a0a" stroke-width="1.05"/><rect x="149.15" y="337.45" width="3.3" height="3.3" fill="#757575" stroke="#0a0a0a" stroke-width="1.05"/><circle cx="151.7" cy="346.3" r="1.85" fill="#fff" stroke="#0a0a0a" stroke-width="0.9"/><circle cx="151.3" cy="350.5" r="1.85" fill="#fff" stroke="#0a0a0a" stroke-width="0.9"/><rect x="152.15" y="353.65" width="3.3" height="3.3" fill="#757575" stroke="#0a0a0a" stroke-width="1.05"/><rect x="153.85" y="350.25" width="3.3" height="3.3" fill="#757575" stroke="#0a0a0a" stroke-width="1.05"/><rect x="155.65" y="350.95" width="3.3" height="3.3" fill="#757575" stroke="#0a0a0a" stroke-width="1.05"/><rect x="157.75" y="352.95" width="3.3" height="3.3" fill="#757575" stroke="#0a0a0a" stroke-width="1.05"/><rect x="159.85" y="353.25" width="3.3" height="3.3" fill="#757575" stroke="#0a0a0a" stroke-width="1.05"/><rect x="161.85" y="354.15" width="3.3" height="3.3" fill="#757575" stroke="#0a0a0a" stroke-width="1.05"/><rect x="164.35" y="342.95" width="3.3" height="3.3" fill="#757575" stroke="#0a0a0a" stroke-width="1.05"/><circle cx="167.0" cy="349.1" r="1.85" fill="#fff" stroke="#0a0a0a" stroke-width="0.9"/><circle cx="169.1" cy="352.3" r="1.85" fill="#fff" stroke="#0a0a0a" stroke-width="0.9"/><rect x="169.55" y="359.95" width="3.3" height="3.3" fill="#757575" stroke="#0a0a0a" stroke-width="1.05"/><rect x="173.75" y="353.65" width="3.3" height="3.3" fill="#757575" stroke="#0a0a0a" stroke-width="1.05"/><rect x="176.05" y="355.75" width="3.3" height="3.3" fill="#757575" stroke="#0a0a0a" stroke-width="1.05"/><rect x="178.55" y="350.25" width="3.3" height="3.3" fill="#757575" stroke="#0a0a0a" stroke-width="1.05"/><rect x="182.75" y="343.35" width="3.3" height="3.3" fill="#757575" stroke="#0a0a0a" stroke-width="1.05"/><circle cx="185.5" cy="349.5" r="1.85" fill="#fff" stroke="#0a0a0a" stroke-width="0.9"/><rect x="186.25" y="354.55" width="3.3" height="3.3" fill="#757575" stroke="#0a0a0a" stroke-width="1.05"/><rect x="188.65" y="354.05" width="3.3" height="3.3" fill="#757575" stroke="#0a0a0a" stroke-width="1.05"/><rect x="190.75" y="352.45" width="3.3" height="3.3" fill="#757575" stroke="#0a0a0a" stroke-width="1.05"/><rect x="193.25" y="352.55" width="3.3" height="3.3" fill="#757575" stroke="#0a0a0a" stroke-width="1.05"/><rect x="195.75" y="353.15" width="3.3" height="3.3" fill="#757575" stroke="#0a0a0a" stroke-width="1.05"/><rect x="198.15" y="354.05" width="3.3" height="3.3" fill="#757575" stroke="#0a0a0a" stroke-width="1.05"/><circle cx="202.1" cy="357.7" r="1.85" fill="#fff" stroke="#0a0a0a" stroke-width="0.9"/><circle cx="201.3" cy="366.1" r="1.85" fill="#fff" stroke="#0a0a0a" stroke-width="0.9"/><rect x="202.85" y="360.05" width="3.3" height="3.3" fill="#757575" stroke="#0a0a0a" stroke-width="1.05"/><rect x="204.95" y="350.35" width="3.3" height="3.3" fill="#757575" stroke="#0a0a0a" stroke-width="1.05"/><rect x="206.95" y="348.45" width="3.3" height="3.3" fill="#757575" stroke="#0a0a0a" stroke-width="1.05"/><rect x="208.85" y="349.95" width="3.3" height="3.3" fill="#757575" stroke="#0a0a0a" stroke-width="1.05"/><rect x="210.95" y="349.55" width="3.3" height="3.3" fill="#757575" stroke="#0a0a0a" stroke-width="1.05"/><rect x="213.05" y="349.95" width="3.3" height="3.3" fill="#757575" stroke="#0a0a0a" stroke-width="1.05"/><rect x="215.05" y="350.15" width="3.3" height="3.3" fill="#757575" stroke="#0a0a0a" stroke-width="1.05"/><circle cx="218.5" cy="342.8" r="1.85" fill="#fff" stroke="#0a0a0a" stroke-width="0.9"/><line x1="18.8" x2="18.8" y1="300.7" y2="412.6" stroke="#222" stroke-width="1.3"/><line x1="18.3" x2="221.2" y1="300.85" y2="300.85" stroke="#303030" stroke-width="1.3"/><line x1="18.3" x2="221.2" y1="412.3" y2="412.3" stroke="#1c1c1c" stroke-width="1.4"/><line x1="218.6" x2="218.6" y1="412.0" y2="414.9" stroke="#222" stroke-width="1"/><text x="219.4" y="427.0" text-anchor="middle" font-size="10.3" fill="#000">0</text><line x1="187.9" x2="187.9" y1="412.0" y2="414.9" stroke="#222" stroke-width="1"/><text x="188.7" y="427.0" text-anchor="middle" font-size="10.3" fill="#000">2</text><line x1="157.1" x2="157.1" y1="412.0" y2="414.9" stroke="#222" stroke-width="1"/><text x="157.9" y="427.0" text-anchor="middle" font-size="10.3" fill="#000">4</text><line x1="126.4" x2="126.4" y1="412.0" y2="414.9" stroke="#222" stroke-width="1"/><text x="127.2" y="427.0" text-anchor="middle" font-size="10.3" fill="#000">6</text><line x1="95.6" x2="95.6" y1="412.0" y2="414.9" stroke="#222" stroke-width="1"/><text x="96.4" y="427.0" text-anchor="middle" font-size="10.3" fill="#000">8</text><line x1="64.9" x2="64.9" y1="412.0" y2="414.9" stroke="#222" stroke-width="1"/><text x="65.7" y="427.0" text-anchor="middle" font-size="10.3" fill="#000">10</text><line x1="34.2" x2="34.2" y1="412.0" y2="414.9" stroke="#222" stroke-width="1"/><text x="35.0" y="427.0" text-anchor="middle" font-size="10.3" fill="#000">12</text><text x="19.0" y="298.0" font-size="9.05" fill="#000">REN-Sp4</text></g>
<g><rect x="340.6" y="300.7" width="16.0" height="111.3" fill="#e2e2e2"/><rect x="401.2" y="300.7" width="12.9" height="111.3" fill="#e2e2e2"/><line x1="340.6" x2="340.6" y1="300.7" y2="412.0" stroke="#b2b2b2" stroke-width="1.3"/><line x1="356.6" x2="356.6" y1="300.7" y2="412.0" stroke="#b2b2b2" stroke-width="1.3"/><line x1="378.7" x2="378.7" y1="300.7" y2="412.0" stroke="#c8c8c8" stroke-width="1"/><line x1="401.2" x2="401.2" y1="300.7" y2="412.0" stroke="#b2b2b2" stroke-width="1.3"/><line x1="414.1" x2="414.1" y1="300.7" y2="412.0" stroke="#b2b2b2" stroke-width="1.3"/><line x1="430.3" x2="430.3" y1="300.7" y2="412.0" stroke="#8c8c8c" stroke-width="1"/><line x1="430.4" x2="432.7" y1="319.2" y2="319.2" stroke="#222" stroke-width="1"/><line x1="430.4" x2="432.7" y1="337.8" y2="337.8" stroke="#222" stroke-width="1"/><line x1="430.4" x2="432.7" y1="356.4" y2="356.4" stroke="#222" stroke-width="1"/><line x1="430.4" x2="432.7" y1="374.9" y2="374.9" stroke="#222" stroke-width="1"/><line x1="430.4" x2="432.7" y1="393.4" y2="393.4" stroke="#222" stroke-width="1"/><text transform="translate(353.0,303.5) rotate(-90)" text-anchor="end" font-size="7.5" fill="#787878">2000</text><text x="368.4" y="308.8" text-anchor="middle" font-size="8" fill="#828282">2001</text><text x="390.4" y="308.8" text-anchor="middle" font-size="8" fill="#828282">2002</text><text transform="translate(410.0,303.5) rotate(-90)" text-anchor="end" font-size="7.5" fill="#787878">2003</text><text transform="translate(424.9,303.5) rotate(-90)" text-anchor="end" font-size="7.5" fill="#787878">2004</text><path d="M342.3,379.8 L345.9,377.6 L349.2,378.8 L352.1,383.5 L353.2,389.3 L355.0,390.5 L357.9,372.2 L361.0,375.4 L363.9,374.4 L366.8,373.2 L370.0,367.8 L374.1,367.8 L374.4,371.1 L376.6,373.7 L380.0,383.9 L381.4,386.4 L383.2,381.0 L384.6,383.5 L386.8,381.3 L389.0,376.9 L391.9,372.5 L393.1,376.9 L394.9,383.5 L398.8,381.3 L399.2,385.4 L402.9,379.1 L403.2,373.7 L406.1,375.9 L409.0,373.7 L411.4,367.4 L411.9,368.6 L414.9,393.4 L417.5,391.5 L420.4,388.9 L423.0,377.6 L424.1,374.0 L426.2,372.2 L428.4,371.1 L429.2,376.6" fill="none" stroke="#1a1a1a" stroke-width="1"/><rect x="340.65" y="378.15" width="3.3" height="3.3" fill="#757575" stroke="#0a0a0a" stroke-width="1.05"/><rect x="344.25" y="375.95" width="3.3" height="3.3" fill="#757575" stroke="#0a0a0a" stroke-width="1.05"/><rect x="347.55" y="377.15" width="3.3" height="3.3" fill="#757575" stroke="#0a0a0a" stroke-width="1.05"/><rect x="350.45" y="381.85" width="3.3" height="3.3" fill="#757575" stroke="#0a0a0a" stroke-width="1.05"/><circle cx="353.2" cy="389.3" r="1.85" fill="#fff" stroke="#0a0a0a" stroke-width="0.9"/><circle cx="355.0" cy="390.5" r="1.85" fill="#fff" stroke="#0a0a0a" stroke-width="0.9"/><rect x="356.25" y="370.55" width="3.3" height="3.3" fill="#757575" stroke="#0a0a0a" stroke-width="1.05"/><rect x="359.35" y="373.75" width="3.3" height="3.3" fill="#757575" stroke="#0a0a0a" stroke-width="1.05"/><rect x="362.25" y="372.75" width="3.3" height="3.3" fill="#757575" stroke="#0a0a0a" stroke-width="1.05"/><rect x="365.15" y="371.55" width="3.3" height="3.3" fill="#757575" stroke="#0a0a0a" stroke-width="1.05"/><rect x="368.35" y="366.15" width="3.3" height="3.3" fill="#757575" stroke="#0a0a0a" stroke-width="1.05"/><rect x="372.45" y="366.15" width="3.3" height="3.3" fill="#757575" stroke="#0a0a0a" stroke-width="1.05"/><rect x="372.75" y="369.45" width="3.3" height="3.3" fill="#757575" stroke="#0a0a0a" stroke-width="1.05"/><circle cx="376.6" cy="373.7" r="1.85" fill="#fff" stroke="#0a0a0a" stroke-width="0.9"/><rect x="378.35" y="382.25" width="3.3" height="3.3" fill="#757575" stroke="#0a0a0a" stroke-width="1.05"/><rect x="379.75" y="384.75" width="3.3" height="3.3" fill="#757575" stroke="#0a0a0a" stroke-width="1.05"/><rect x="381.55" y="379.35" width="3.3" height="3.3" fill="#757575" stroke="#0a0a0a" stroke-width="1.05"/><rect x="382.95" y="381.85" width="3.3" height="3.3" fill="#757575" stroke="#0a0a0a" stroke-width="1.05"/><rect x="385.15" y="379.65" width="3.3" height="3.3" fill="#757575" stroke="#0a0a0a" stroke-width="1.05"/><rect x="387.35" y="375.25" width="3.3" height="3.3" fill="#757575" stroke="#0a0a0a" stroke-width="1.05"/><rect x="390.25" y="370.85" width="3.3" height="3.3" fill="#757575" stroke="#0a0a0a" stroke-width="1.05"/><rect x="391.45" y="375.25" width="3.3" height="3.3" fill="#757575" stroke="#0a0a0a" stroke-width="1.05"/><rect x="393.25" y="381.85" width="3.3" height="3.3" fill="#757575" stroke="#0a0a0a" stroke-width="1.05"/><circle cx="398.8" cy="381.3" r="1.85" fill="#fff" stroke="#0a0a0a" stroke-width="0.9"/><circle cx="399.2" cy="385.4" r="1.85" fill="#fff" stroke="#0a0a0a" stroke-width="0.9"/><rect x="401.25" y="377.45" width="3.3" height="3.3" fill="#757575" stroke="#0a0a0a" stroke-width="1.05"/><rect x="401.55" y="372.05" width="3.3" height="3.3" fill="#757575" stroke="#0a0a0a" stroke-width="1.05"/><rect x="404.45" y="374.25" width="3.3" height="3.3" fill="#757575" stroke="#0a0a0a" stroke-width="1.05"/><rect x="407.35" y="372.05" width="3.3" height="3.3" fill="#757575" stroke="#0a0a0a" stroke-width="1.05"/><rect x="409.75" y="365.75" width="3.3" height="3.3" fill="#757575" stroke="#0a0a0a" stroke-width="1.05"/><circle cx="411.9" cy="368.6" r="1.85" fill="#fff" stroke="#0a0a0a" stroke-width="0.9"/><rect x="413.25" y="391.75" width="3.3" height="3.3" fill="#757575" stroke="#0a0a0a" stroke-width="1.05"/><rect x="415.85" y="389.85" width="3.3" height="3.3" fill="#757575" stroke="#0a0a0a" stroke-width="1.05"/><rect x="418.75" y="387.25" width="3.3" height="3.3" fill="#757575" stroke="#0a0a0a" stroke-width="1.05"/><rect x="421.35" y="375.95" width="3.3" height="3.3" fill="#757575" stroke="#0a0a0a" stroke-width="1.05"/><rect x="422.45" y="372.35" width="3.3" height="3.3" fill="#757575" stroke="#0a0a0a" stroke-width="1.05"/><rect x="424.55" y="370.55" width="3.3" height="3.3" fill="#757575" stroke="#0a0a0a" stroke-width="1.05"/><rect x="426.75" y="369.45" width="3.3" height="3.3" fill="#757575" stroke="#0a0a0a" stroke-width="1.05"/><circle cx="429.2" cy="376.6" r="1.85" fill="#fff" stroke="#0a0a0a" stroke-width="0.9"/><line x1="230.1" x2="230.1" y1="300.7" y2="412.6" stroke="#222" stroke-width="1.3"/><line x1="229.6" x2="432.5" y1="300.85" y2="300.85" stroke="#303030" stroke-width="1.3"/><line x1="229.6" x2="432.5" y1="412.3" y2="412.3" stroke="#1c1c1c" stroke-width="1.4"/><line x1="429.9" x2="429.9" y1="412.0" y2="414.9" stroke="#222" stroke-width="1"/><text x="430.7" y="427.0" text-anchor="middle" font-size="10.3" fill="#000">0</text><line x1="399.2" x2="399.2" y1="412.0" y2="414.9" stroke="#222" stroke-width="1"/><text x="400.0" y="427.0" text-anchor="middle" font-size="10.3" fill="#000">2</text><line x1="368.4" x2="368.4" y1="412.0" y2="414.9" stroke="#222" stroke-width="1"/><text x="369.2" y="427.0" text-anchor="middle" font-size="10.3" fill="#000">4</text><line x1="337.7" x2="337.7" y1="412.0" y2="414.9" stroke="#222" stroke-width="1"/><text x="338.5" y="427.0" text-anchor="middle" font-size="10.3" fill="#000">6</text><line x1="306.9" x2="306.9" y1="412.0" y2="414.9" stroke="#222" stroke-width="1"/><text x="307.7" y="427.0" text-anchor="middle" font-size="10.3" fill="#000">8</text><line x1="276.2" x2="276.2" y1="412.0" y2="414.9" stroke="#222" stroke-width="1"/><text x="277.0" y="427.0" text-anchor="middle" font-size="10.3" fill="#000">10</text><line x1="245.5" x2="245.5" y1="412.0" y2="414.9" stroke="#222" stroke-width="1"/><text x="246.3" y="427.0" text-anchor="middle" font-size="10.3" fill="#000">12</text><text x="230.3" y="298.0" font-size="9.05" fill="#000">HAI-Sp3014</text></g>
<g><rect x="551.7" y="300.7" width="16.9" height="111.3" fill="#e2e2e2"/><rect x="584.2" y="300.7" width="18.0" height="111.3" fill="#e2e2e2"/><rect x="627.2" y="300.7" width="14.0" height="111.3" fill="#e2e2e2"/><line x1="551.7" x2="551.7" y1="300.7" y2="412.0" stroke="#b2b2b2" stroke-width="1.3"/><line x1="568.7" x2="568.7" y1="300.7" y2="412.0" stroke="#b2b2b2" stroke-width="1.3"/><line x1="584.2" x2="584.2" y1="300.7" y2="412.0" stroke="#b2b2b2" stroke-width="1.3"/><line x1="602.2" x2="602.2" y1="300.7" y2="412.0" stroke="#b2b2b2" stroke-width="1.3"/><line x1="615.1" x2="615.1" y1="300.7" y2="412.0" stroke="#c8c8c8" stroke-width="1"/><line x1="627.2" x2="627.2" y1="300.7" y2="412.0" stroke="#b2b2b2" stroke-width="1.3"/><text transform="translate(563.5,303.5) rotate(-90)" text-anchor="end" font-size="7.5" fill="#787878">1997</text><text transform="translate(579.0,303.5) rotate(-90)" text-anchor="end" font-size="7.5" fill="#787878">1998</text><text transform="translate(595.6,303.5) rotate(-90)" text-anchor="end" font-size="7.5" fill="#787878">1999</text><text transform="translate(611.9,303.5) rotate(-90)" text-anchor="end" font-size="7.5" fill="#787878">2000</text><text transform="translate(623.9,303.5) rotate(-90)" text-anchor="end" font-size="7.5" fill="#787878">2001</text><text transform="translate(637.5,303.5) rotate(-90)" text-anchor="end" font-size="7.5" fill="#787878">2002</text><path d="M553.0,392.4 L554.8,387.3 L557.1,386.3 L558.1,383.2 L560.0,380.0 L560.3,376.4 L562.5,367.6 L565.0,360.3 L567.2,354.5 L570.3,375.7 L572.7,380.5 L574.9,380.0 L577.4,376.8 L579.3,373.5 L580.8,370.5 L582.7,374.9 L585.9,391.0 L588.4,389.5 L590.7,388.5 L592.9,383.7 L595.7,383.7 L597.8,377.4 L600.2,379.7 L603.1,400.2 L605.1,398.3 L607.8,391.7 L610.3,389.5 L612.9,381.9 L616.5,388.4 L619.5,383.7 L621.6,377.4 L623.8,377.8 L625.7,379.3 L628.6,381.1 L628.9,377.8 L631.1,375.4 L633.3,376.4 L635.5,377.8 L637.7,376.1 L639.9,372.0 L640.6,374.9" fill="none" stroke="#1a1a1a" stroke-width="1"/><rect x="551.35" y="390.75" width="3.3" height="3.3" fill="#757575" stroke="#0a0a0a" stroke-width="1.05"/><rect x="553.15" y="385.65" width="3.3" height="3.3" fill="#757575" stroke="#0a0a0a" stroke-width="1.05"/><rect x="555.45" y="384.65" width="3.3" height="3.3" fill="#757575" stroke="#0a0a0a" stroke-width="1.05"/><rect x="556.45" y="381.55" width="3.3" height="3.3" fill="#757575" stroke="#0a0a0a" stroke-width="1.05"/><rect x="558.35" y="378.35" width="3.3" height="3.3" fill="#757575" stroke="#0a0a0a" stroke-width="1.05"/><rect x="558.65" y="374.75" width="3.3" height="3.3" fill="#757575" stroke="#0a0a0a" stroke-width="1.05"/><rect x="560.85" y="365.95" width="3.3" height="3.3" fill="#757575" stroke="#0a0a0a" stroke-width="1.05"/><circle cx="565.0" cy="360.3" r="1.85" fill="#fff" stroke="#0a0a0a" stroke-width="0.9"/><circle cx="567.2" cy="354.5" r="1.85" fill="#fff" stroke="#0a0a0a" stroke-width="0.9"/><rect x="568.65" y="374.05" width="3.3" height="3.3" fill="#757575" stroke="#0a0a0a" stroke-width="1.05"/><rect x="571.05" y="378.85" width="3.3" height="3.3" fill="#757575" stroke="#0a0a0a" stroke-width="1.05"/><rect x="573.25" y="378.35" width="3.3" height="3.3" fill="#757575" stroke="#0a0a0a" stroke-width="1.05"/><rect x="575.75" y="375.15" width="3.3" height="3.3" fill="#757575" stroke="#0a0a0a" stroke-width="1.05"/><circle cx="579.3" cy="373.5" r="1.85" fill="#fff" stroke="#0a0a0a" stroke-width="0.9"/><circle cx="580.8" cy="370.5" r="1.85" fill="#fff" stroke="#0a0a0a" stroke-width="0.9"/><circle cx="582.7" cy="374.9" r="1.85" fill="#fff" stroke="#0a0a0a" stroke-width="0.9"/><rect x="584.25" y="389.35" width="3.3" height="3.3" fill="#757575" stroke="#0a0a0a" stroke-width="1.05"/><rect x="586.75" y="387.85" width="3.3" height="3.3" fill="#757575" stroke="#0a0a0a" stroke-width="1.05"/><rect x="589.05" y="386.85" width="3.3" height="3.3" fill="#757575" stroke="#0a0a0a" stroke-width="1.05"/><rect x="591.25" y="382.05" width="3.3" height="3.3" fill="#757575" stroke="#0a0a0a" stroke-width="1.05"/><rect x="594.05" y="382.05" width="3.3" height="3.3" fill="#757575" stroke="#0a0a0a" stroke-width="1.05"/><circle cx="597.8" cy="377.4" r="1.85" fill="#fff" stroke="#0a0a0a" stroke-width="0.9"/><circle cx="600.2" cy="379.7" r="1.85" fill="#fff" stroke="#0a0a0a" stroke-width="0.9"/><rect x="601.45" y="398.55" width="3.3" height="3.3" fill="#757575" stroke="#0a0a0a" stroke-width="1.05"/><rect x="603.45" y="396.65" width="3.3" height="3.3" fill="#757575" stroke="#0a0a0a" stroke-width="1.05"/><rect x="606.15" y="390.05" width="3.3" height="3.3" fill="#757575" stroke="#0a0a0a" stroke-width="1.05"/><rect x="608.65" y="387.85" width="3.3" height="3.3" fill="#757575" stroke="#0a0a0a" stroke-width="1.05"/><circle cx="612.9" cy="381.9" r="1.85" fill="#fff" stroke="#0a0a0a" stroke-width="0.9"/><rect x="614.85" y="386.75" width="3.3" height="3.3" fill="#757575" stroke="#0a0a0a" stroke-width="1.05"/><rect x="617.85" y="382.05" width="3.3" height="3.3" fill="#757575" stroke="#0a0a0a" stroke-width="1.05"/><rect x="619.95" y="375.75" width="3.3" height="3.3" fill="#757575" stroke="#0a0a0a" stroke-width="1.05"/><circle cx="623.8" cy="377.8" r="1.85" fill="#fff" stroke="#0a0a0a" stroke-width="0.9"/><circle cx="625.7" cy="379.3" r="1.85" fill="#fff" stroke="#0a0a0a" stroke-width="0.9"/><rect x="626.95" y="379.45" width="3.3" height="3.3" fill="#757575" stroke="#0a0a0a" stroke-width="1.05"/><rect x="627.25" y="376.15" width="3.3" height="3.3" fill="#757575" stroke="#0a0a0a" stroke-width="1.05"/><rect x="629.45" y="373.75" width="3.3" height="3.3" fill="#757575" stroke="#0a0a0a" stroke-width="1.05"/><rect x="631.65" y="374.75" width="3.3" height="3.3" fill="#757575" stroke="#0a0a0a" stroke-width="1.05"/><rect x="633.85" y="376.15" width="3.3" height="3.3" fill="#757575" stroke="#0a0a0a" stroke-width="1.05"/><rect x="636.05" y="374.45" width="3.3" height="3.3" fill="#757575" stroke="#0a0a0a" stroke-width="1.05"/><circle cx="639.9" cy="372.0" r="1.85" fill="#fff" stroke="#0a0a0a" stroke-width="0.9"/><circle cx="640.6" cy="374.9" r="1.85" fill="#fff" stroke="#0a0a0a" stroke-width="0.9"/><line x1="441.4" x2="441.4" y1="300.7" y2="412.6" stroke="#222" stroke-width="1.3"/><line x1="440.9" x2="643.8" y1="300.85" y2="300.85" stroke="#303030" stroke-width="1.3"/><line x1="440.9" x2="643.8" y1="412.3" y2="412.3" stroke="#1c1c1c" stroke-width="1.4"/><line x1="641.6" x2="641.6" y1="300.7" y2="412.6" stroke="#222" stroke-width="1.4"/><line x1="641.2" x2="644.1" y1="300.7" y2="300.7" stroke="#222" stroke-width="1"/><text x="647.8" y="304.4" font-size="10.3" fill="#000">-22</text><line x1="641.2" x2="644.1" y1="319.2" y2="319.2" stroke="#222" stroke-width="1"/><text x="647.8" y="322.9" font-size="10.3" fill="#000">-23</text><line x1="641.2" x2="644.1" y1="337.8" y2="337.8" stroke="#222" stroke-width="1"/><text x="647.8" y="341.5" font-size="10.3" fill="#000">-24</text><line x1="641.2" x2="644.1" y1="356.4" y2="356.4" stroke="#222" stroke-width="1"/><text x="647.8" y="360.1" font-size="10.3" fill="#000">-25</text><line x1="641.2" x2="644.1" y1="374.9" y2="374.9" stroke="#222" stroke-width="1"/><text x="647.8" y="378.6" font-size="10.3" fill="#000">-26</text><line x1="641.2" x2="644.1" y1="393.4" y2="393.4" stroke="#222" stroke-width="1"/><text x="647.8" y="397.1" font-size="10.3" fill="#000">-27</text><line x1="641.2" x2="644.1" y1="412.0" y2="412.0" stroke="#222" stroke-width="1"/><text x="647.8" y="415.7" font-size="10.3" fill="#000">-28</text><line x1="641.2" x2="641.2" y1="412.0" y2="414.9" stroke="#222" stroke-width="1"/><text x="642.0" y="427.0" text-anchor="middle" font-size="10.3" fill="#000">0</text><line x1="610.5" x2="610.5" y1="412.0" y2="414.9" stroke="#222" stroke-width="1"/><text x="611.3" y="427.0" text-anchor="middle" font-size="10.3" fill="#000">2</text><line x1="579.7" x2="579.7" y1="412.0" y2="414.9" stroke="#222" stroke-width="1"/><text x="580.5" y="427.0" text-anchor="middle" font-size="10.3" fill="#000">4</text><line x1="549.0" x2="549.0" y1="412.0" y2="414.9" stroke="#222" stroke-width="1"/><text x="549.8" y="427.0" text-anchor="middle" font-size="10.3" fill="#000">6</text><line x1="518.2" x2="518.2" y1="412.0" y2="414.9" stroke="#222" stroke-width="1"/><text x="519.0" y="427.0" text-anchor="middle" font-size="10.3" fill="#000">8</text><line x1="487.5" x2="487.5" y1="412.0" y2="414.9" stroke="#222" stroke-width="1"/><text x="488.3" y="427.0" text-anchor="middle" font-size="10.3" fill="#000">10</text><line x1="456.8" x2="456.8" y1="412.0" y2="414.9" stroke="#222" stroke-width="1"/><text x="457.6" y="427.0" text-anchor="middle" font-size="10.3" fill="#000">12</text><text x="441.6" y="298.0" font-size="9.05" fill="#000">FLA-Sp3</text></g>
<text transform="translate(10.8,61.9) rotate(-90)" text-anchor="middle" font-size="12.2" fill="#000">tree with rapid growth</text>
<text transform="translate(10.8,204.7) rotate(-90)" text-anchor="middle" font-size="12.2" fill="#000">average growth</text>
<text transform="translate(10.8,354.1) rotate(-90)" text-anchor="middle" font-size="12.2" fill="#000">slow growth</text>
<text transform="translate(681,218.2) rotate(-90)" text-anchor="middle" font-size="12.6" fill="#000">δ<tspan font-size="8.6" dy="-4.2">13</tspan><tspan dy="4.2">C (‰)</tspan></text>
<text x="336.5" y="442.6" text-anchor="middle" font-size="12.2" fill="#000">Distance from cambium (mm)</text>
<rect x="238.70000000000002" y="312.0" width="3.2" height="3.2" fill="#7a7a7a" stroke="#161616" stroke-width="0.9"/>
<text x="247.9" y="316.70000000000005" font-size="9" fill="#000">earlywood</text>
<circle cx="240.3" cy="324.3" r="1.9" fill="#fff" stroke="#161616" stroke-width="0.9"/>
<text x="247.9" y="328.6" font-size="9" fill="#000">latewood</text>
</svg>
</body></html>
